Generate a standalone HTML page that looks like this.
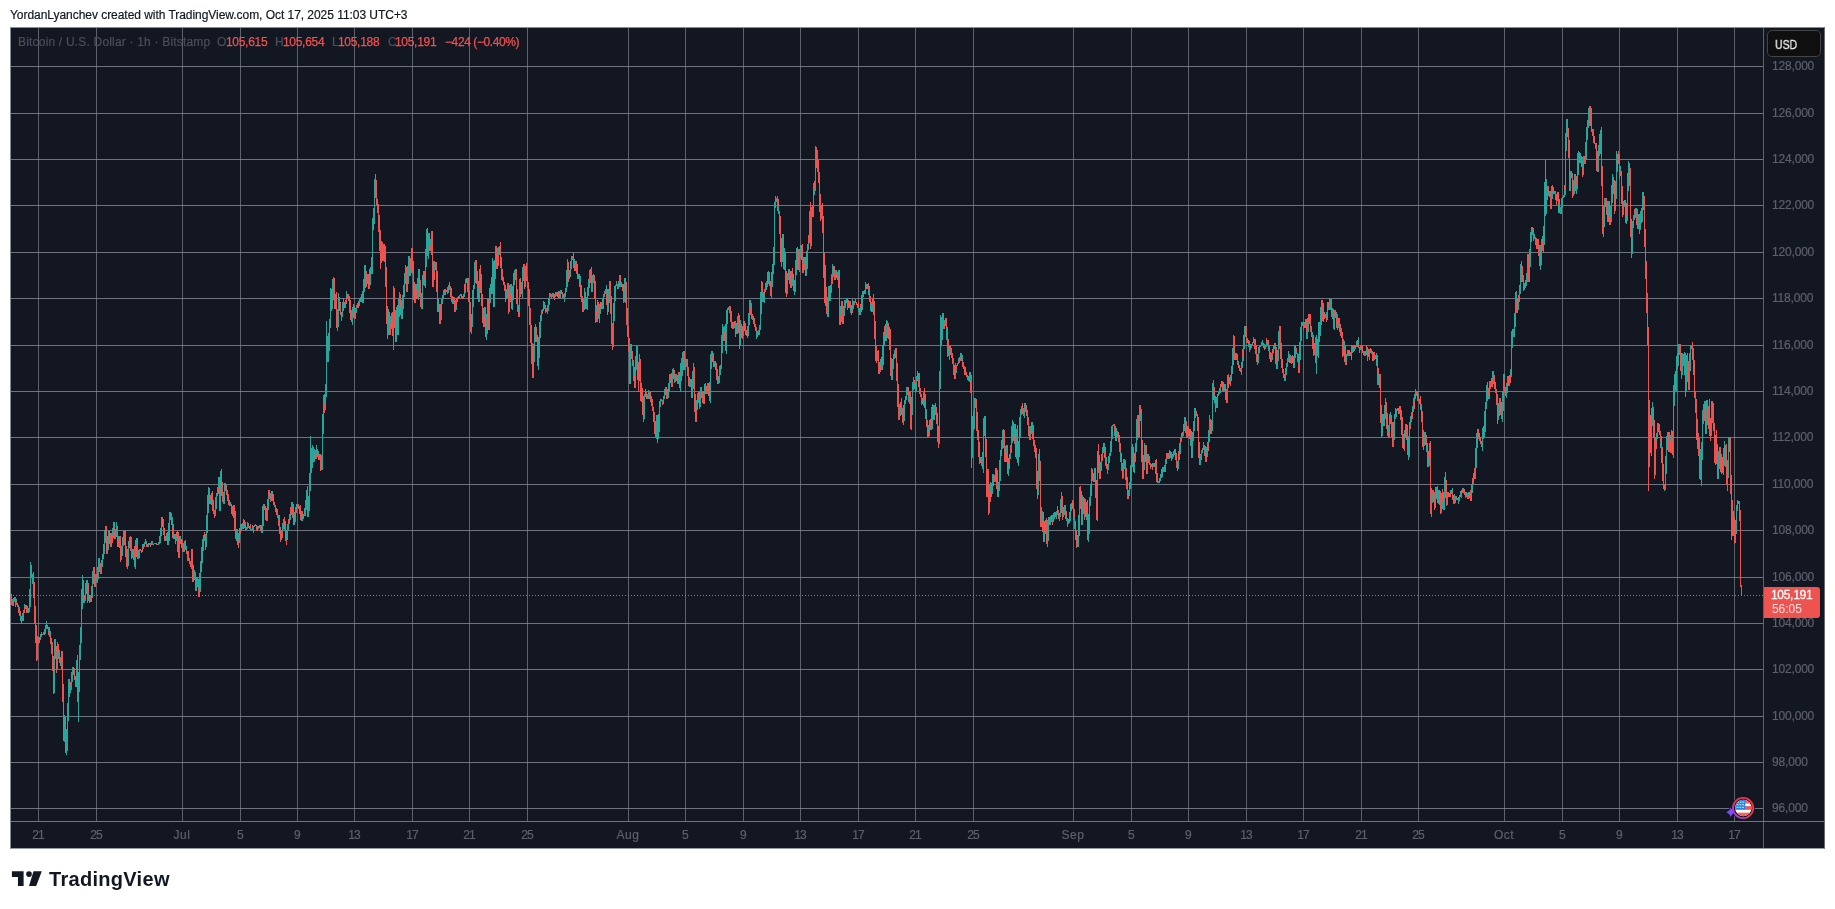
<!DOCTYPE html><html><head><meta charset="utf-8"><title>BTCUSD chart</title><style>
html,body{margin:0;padding:0;background:#fff}
body{width:1835px;height:909px;position:relative;overflow:hidden;font-family:"Liberation Sans",sans-serif;font-size:12px;line-height:14px}
.abs{position:absolute;white-space:pre;will-change:transform}
#cap{color:#131722;letter-spacing:-0.045px;-webkit-text-stroke:0.2px #131722}
#chart{left:10px;top:27px;width:1815px;height:822px;background:#131722;box-sizing:border-box;border:1px solid #8a8c95;border-right-color:#666872;border-bottom-color:#9a9ca4}
.pl{color:#5d606b;letter-spacing:-0.18px;-webkit-text-stroke:0.2px #5d606b}
.tl{width:60px;text-align:center;color:#5d606b;letter-spacing:-0.3px;-webkit-text-stroke:0.2px #5d606b}
.lg{color:#4b4e5a;-webkit-text-stroke:0.2px #4b4e5a}
.lv{color:#ef5350;letter-spacing:-0.3px;-webkit-text-stroke:0.25px #ef5350}
#usd{left:1767px;top:30px;width:54px;height:27px;box-sizing:border-box;border:1px solid #444446;border-radius:5px;background:#0f0f0f}
#usdt{color:#e6e6e6;-webkit-text-stroke:0.3px #e6e6e6;transform:scaleX(0.87);transform-origin:0 0}
#last{left:1764px;top:587px;width:56px;height:31px;background:#ef5350;border-radius:0 3px 3px 0}

</style></head><body>
<div id="cap" class="abs" style="left:10.1px;top:8.3px;">YordanLyanchev created with TradingView.com, Oct 17, 2025 11:03 UTC+3</div>
<div id="chart" class="abs"></div>
<svg width="1835" height="909" viewBox="0 0 1835 909" style="position:absolute;left:0;top:0" shape-rendering="crispEdges">
<path d="M38 28V821h1V28zM96 28V821h1V28zM182 28V821h1V28zM240 28V821h1V28zM297 28V821h1V28zM354 28V821h1V28zM412 28V821h1V28zM469 28V821h1V28zM527 28V821h1V28zM628 28V821h1V28zM685 28V821h1V28zM743 28V821h1V28zM800 28V821h1V28zM858 28V821h1V28zM915 28V821h1V28zM973 28V821h1V28zM1073 28V821h1V28zM1131 28V821h1V28zM1188 28V821h1V28zM1246 28V821h1V28zM1303 28V821h1V28zM1361 28V821h1V28zM1418 28V821h1V28zM1504 28V821h1V28zM1562 28V821h1V28zM1619 28V821h1V28zM1677 28V821h1V28zM1734 28V821h1V28zM1763 28V848h1V28z" fill="rgba(240,243,250,0.34)"/>
<path d="M11 66H1763v1H11zM11 113H1763v1H11zM11 159H1763v1H11zM11 205H1763v1H11zM11 252H1763v1H11zM11 298H1763v1H11zM11 345H1763v1H11zM11 391H1763v1H11zM11 437H1763v1H11zM11 484H1763v1H11zM11 530H1763v1H11zM11 577H1763v1H11zM11 623H1763v1H11zM11 669H1763v1H11zM11 716H1763v1H11zM11 762H1763v1H11zM11 808H1763v1H11zM11 821H1824v1H11z" fill="rgba(131,134,147,0.83)"/>
<path d="M13 595h1v1h-1zM16 595h1v1h-1zM19 595h1v1h-1zM22 595h1v1h-1zM25 595h1v1h-1zM28 595h1v1h-1zM31 595h1v1h-1zM34 595h1v1h-1zM37 595h1v1h-1zM40 595h1v1h-1zM43 595h1v1h-1zM46 595h1v1h-1zM49 595h1v1h-1zM52 595h1v1h-1zM55 595h1v1h-1zM58 595h1v1h-1zM61 595h1v1h-1zM64 595h1v1h-1zM67 595h1v1h-1zM70 595h1v1h-1zM73 595h1v1h-1zM76 595h1v1h-1zM79 595h1v1h-1zM82 595h1v1h-1zM85 595h1v1h-1zM88 595h1v1h-1zM91 595h1v1h-1zM94 595h1v1h-1zM97 595h1v1h-1zM100 595h1v1h-1zM103 595h1v1h-1zM106 595h1v1h-1zM109 595h1v1h-1zM112 595h1v1h-1zM115 595h1v1h-1zM118 595h1v1h-1zM121 595h1v1h-1zM124 595h1v1h-1zM127 595h1v1h-1zM130 595h1v1h-1zM133 595h1v1h-1zM136 595h1v1h-1zM139 595h1v1h-1zM142 595h1v1h-1zM145 595h1v1h-1zM148 595h1v1h-1zM151 595h1v1h-1zM154 595h1v1h-1zM157 595h1v1h-1zM160 595h1v1h-1zM163 595h1v1h-1zM166 595h1v1h-1zM169 595h1v1h-1zM172 595h1v1h-1zM175 595h1v1h-1zM178 595h1v1h-1zM181 595h1v1h-1zM184 595h1v1h-1zM187 595h1v1h-1zM190 595h1v1h-1zM193 595h1v1h-1zM196 595h1v1h-1zM199 595h1v1h-1zM202 595h1v1h-1zM205 595h1v1h-1zM208 595h1v1h-1zM211 595h1v1h-1zM214 595h1v1h-1zM217 595h1v1h-1zM220 595h1v1h-1zM223 595h1v1h-1zM226 595h1v1h-1zM229 595h1v1h-1zM232 595h1v1h-1zM235 595h1v1h-1zM238 595h1v1h-1zM241 595h1v1h-1zM244 595h1v1h-1zM247 595h1v1h-1zM250 595h1v1h-1zM253 595h1v1h-1zM256 595h1v1h-1zM259 595h1v1h-1zM262 595h1v1h-1zM265 595h1v1h-1zM268 595h1v1h-1zM271 595h1v1h-1zM274 595h1v1h-1zM277 595h1v1h-1zM280 595h1v1h-1zM283 595h1v1h-1zM286 595h1v1h-1zM289 595h1v1h-1zM292 595h1v1h-1zM295 595h1v1h-1zM298 595h1v1h-1zM301 595h1v1h-1zM304 595h1v1h-1zM307 595h1v1h-1zM310 595h1v1h-1zM313 595h1v1h-1zM316 595h1v1h-1zM319 595h1v1h-1zM322 595h1v1h-1zM325 595h1v1h-1zM328 595h1v1h-1zM331 595h1v1h-1zM334 595h1v1h-1zM337 595h1v1h-1zM340 595h1v1h-1zM343 595h1v1h-1zM346 595h1v1h-1zM349 595h1v1h-1zM352 595h1v1h-1zM355 595h1v1h-1zM358 595h1v1h-1zM361 595h1v1h-1zM364 595h1v1h-1zM367 595h1v1h-1zM370 595h1v1h-1zM373 595h1v1h-1zM376 595h1v1h-1zM379 595h1v1h-1zM382 595h1v1h-1zM385 595h1v1h-1zM388 595h1v1h-1zM391 595h1v1h-1zM394 595h1v1h-1zM397 595h1v1h-1zM400 595h1v1h-1zM403 595h1v1h-1zM406 595h1v1h-1zM409 595h1v1h-1zM412 595h1v1h-1zM415 595h1v1h-1zM418 595h1v1h-1zM421 595h1v1h-1zM424 595h1v1h-1zM427 595h1v1h-1zM430 595h1v1h-1zM433 595h1v1h-1zM436 595h1v1h-1zM439 595h1v1h-1zM442 595h1v1h-1zM445 595h1v1h-1zM448 595h1v1h-1zM451 595h1v1h-1zM454 595h1v1h-1zM457 595h1v1h-1zM460 595h1v1h-1zM463 595h1v1h-1zM466 595h1v1h-1zM469 595h1v1h-1zM472 595h1v1h-1zM475 595h1v1h-1zM478 595h1v1h-1zM481 595h1v1h-1zM484 595h1v1h-1zM487 595h1v1h-1zM490 595h1v1h-1zM493 595h1v1h-1zM496 595h1v1h-1zM499 595h1v1h-1zM502 595h1v1h-1zM505 595h1v1h-1zM508 595h1v1h-1zM511 595h1v1h-1zM514 595h1v1h-1zM517 595h1v1h-1zM520 595h1v1h-1zM523 595h1v1h-1zM526 595h1v1h-1zM529 595h1v1h-1zM532 595h1v1h-1zM535 595h1v1h-1zM538 595h1v1h-1zM541 595h1v1h-1zM544 595h1v1h-1zM547 595h1v1h-1zM550 595h1v1h-1zM553 595h1v1h-1zM556 595h1v1h-1zM559 595h1v1h-1zM562 595h1v1h-1zM565 595h1v1h-1zM568 595h1v1h-1zM571 595h1v1h-1zM574 595h1v1h-1zM577 595h1v1h-1zM580 595h1v1h-1zM583 595h1v1h-1zM586 595h1v1h-1zM589 595h1v1h-1zM592 595h1v1h-1zM595 595h1v1h-1zM598 595h1v1h-1zM601 595h1v1h-1zM604 595h1v1h-1zM607 595h1v1h-1zM610 595h1v1h-1zM613 595h1v1h-1zM616 595h1v1h-1zM619 595h1v1h-1zM622 595h1v1h-1zM625 595h1v1h-1zM628 595h1v1h-1zM631 595h1v1h-1zM634 595h1v1h-1zM637 595h1v1h-1zM640 595h1v1h-1zM643 595h1v1h-1zM646 595h1v1h-1zM649 595h1v1h-1zM652 595h1v1h-1zM655 595h1v1h-1zM658 595h1v1h-1zM661 595h1v1h-1zM664 595h1v1h-1zM667 595h1v1h-1zM670 595h1v1h-1zM673 595h1v1h-1zM676 595h1v1h-1zM679 595h1v1h-1zM682 595h1v1h-1zM685 595h1v1h-1zM688 595h1v1h-1zM691 595h1v1h-1zM694 595h1v1h-1zM697 595h1v1h-1zM700 595h1v1h-1zM703 595h1v1h-1zM706 595h1v1h-1zM709 595h1v1h-1zM712 595h1v1h-1zM715 595h1v1h-1zM718 595h1v1h-1zM721 595h1v1h-1zM724 595h1v1h-1zM727 595h1v1h-1zM730 595h1v1h-1zM733 595h1v1h-1zM736 595h1v1h-1zM739 595h1v1h-1zM742 595h1v1h-1zM745 595h1v1h-1zM748 595h1v1h-1zM751 595h1v1h-1zM754 595h1v1h-1zM757 595h1v1h-1zM760 595h1v1h-1zM763 595h1v1h-1zM766 595h1v1h-1zM769 595h1v1h-1zM772 595h1v1h-1zM775 595h1v1h-1zM778 595h1v1h-1zM781 595h1v1h-1zM784 595h1v1h-1zM787 595h1v1h-1zM790 595h1v1h-1zM793 595h1v1h-1zM796 595h1v1h-1zM799 595h1v1h-1zM802 595h1v1h-1zM805 595h1v1h-1zM808 595h1v1h-1zM811 595h1v1h-1zM814 595h1v1h-1zM817 595h1v1h-1zM820 595h1v1h-1zM823 595h1v1h-1zM826 595h1v1h-1zM829 595h1v1h-1zM832 595h1v1h-1zM835 595h1v1h-1zM838 595h1v1h-1zM841 595h1v1h-1zM844 595h1v1h-1zM847 595h1v1h-1zM850 595h1v1h-1zM853 595h1v1h-1zM856 595h1v1h-1zM859 595h1v1h-1zM862 595h1v1h-1zM865 595h1v1h-1zM868 595h1v1h-1zM871 595h1v1h-1zM874 595h1v1h-1zM877 595h1v1h-1zM880 595h1v1h-1zM883 595h1v1h-1zM886 595h1v1h-1zM889 595h1v1h-1zM892 595h1v1h-1zM895 595h1v1h-1zM898 595h1v1h-1zM901 595h1v1h-1zM904 595h1v1h-1zM907 595h1v1h-1zM910 595h1v1h-1zM913 595h1v1h-1zM916 595h1v1h-1zM919 595h1v1h-1zM922 595h1v1h-1zM925 595h1v1h-1zM928 595h1v1h-1zM931 595h1v1h-1zM934 595h1v1h-1zM937 595h1v1h-1zM940 595h1v1h-1zM943 595h1v1h-1zM946 595h1v1h-1zM949 595h1v1h-1zM952 595h1v1h-1zM955 595h1v1h-1zM958 595h1v1h-1zM961 595h1v1h-1zM964 595h1v1h-1zM967 595h1v1h-1zM970 595h1v1h-1zM973 595h1v1h-1zM976 595h1v1h-1zM979 595h1v1h-1zM982 595h1v1h-1zM985 595h1v1h-1zM988 595h1v1h-1zM991 595h1v1h-1zM994 595h1v1h-1zM997 595h1v1h-1zM1000 595h1v1h-1zM1003 595h1v1h-1zM1006 595h1v1h-1zM1009 595h1v1h-1zM1012 595h1v1h-1zM1015 595h1v1h-1zM1018 595h1v1h-1zM1021 595h1v1h-1zM1024 595h1v1h-1zM1027 595h1v1h-1zM1030 595h1v1h-1zM1033 595h1v1h-1zM1036 595h1v1h-1zM1039 595h1v1h-1zM1042 595h1v1h-1zM1045 595h1v1h-1zM1048 595h1v1h-1zM1051 595h1v1h-1zM1054 595h1v1h-1zM1057 595h1v1h-1zM1060 595h1v1h-1zM1063 595h1v1h-1zM1066 595h1v1h-1zM1069 595h1v1h-1zM1072 595h1v1h-1zM1075 595h1v1h-1zM1078 595h1v1h-1zM1081 595h1v1h-1zM1084 595h1v1h-1zM1087 595h1v1h-1zM1090 595h1v1h-1zM1093 595h1v1h-1zM1096 595h1v1h-1zM1099 595h1v1h-1zM1102 595h1v1h-1zM1105 595h1v1h-1zM1108 595h1v1h-1zM1111 595h1v1h-1zM1114 595h1v1h-1zM1117 595h1v1h-1zM1120 595h1v1h-1zM1123 595h1v1h-1zM1126 595h1v1h-1zM1129 595h1v1h-1zM1132 595h1v1h-1zM1135 595h1v1h-1zM1138 595h1v1h-1zM1141 595h1v1h-1zM1144 595h1v1h-1zM1147 595h1v1h-1zM1150 595h1v1h-1zM1153 595h1v1h-1zM1156 595h1v1h-1zM1159 595h1v1h-1zM1162 595h1v1h-1zM1165 595h1v1h-1zM1168 595h1v1h-1zM1171 595h1v1h-1zM1174 595h1v1h-1zM1177 595h1v1h-1zM1180 595h1v1h-1zM1183 595h1v1h-1zM1186 595h1v1h-1zM1189 595h1v1h-1zM1192 595h1v1h-1zM1195 595h1v1h-1zM1198 595h1v1h-1zM1201 595h1v1h-1zM1204 595h1v1h-1zM1207 595h1v1h-1zM1210 595h1v1h-1zM1213 595h1v1h-1zM1216 595h1v1h-1zM1219 595h1v1h-1zM1222 595h1v1h-1zM1225 595h1v1h-1zM1228 595h1v1h-1zM1231 595h1v1h-1zM1234 595h1v1h-1zM1237 595h1v1h-1zM1240 595h1v1h-1zM1243 595h1v1h-1zM1246 595h1v1h-1zM1249 595h1v1h-1zM1252 595h1v1h-1zM1255 595h1v1h-1zM1258 595h1v1h-1zM1261 595h1v1h-1zM1264 595h1v1h-1zM1267 595h1v1h-1zM1270 595h1v1h-1zM1273 595h1v1h-1zM1276 595h1v1h-1zM1279 595h1v1h-1zM1282 595h1v1h-1zM1285 595h1v1h-1zM1288 595h1v1h-1zM1291 595h1v1h-1zM1294 595h1v1h-1zM1297 595h1v1h-1zM1300 595h1v1h-1zM1303 595h1v1h-1zM1306 595h1v1h-1zM1309 595h1v1h-1zM1312 595h1v1h-1zM1315 595h1v1h-1zM1318 595h1v1h-1zM1321 595h1v1h-1zM1324 595h1v1h-1zM1327 595h1v1h-1zM1330 595h1v1h-1zM1333 595h1v1h-1zM1336 595h1v1h-1zM1339 595h1v1h-1zM1342 595h1v1h-1zM1345 595h1v1h-1zM1348 595h1v1h-1zM1351 595h1v1h-1zM1354 595h1v1h-1zM1357 595h1v1h-1zM1360 595h1v1h-1zM1363 595h1v1h-1zM1366 595h1v1h-1zM1369 595h1v1h-1zM1372 595h1v1h-1zM1375 595h1v1h-1zM1378 595h1v1h-1zM1381 595h1v1h-1zM1384 595h1v1h-1zM1387 595h1v1h-1zM1390 595h1v1h-1zM1393 595h1v1h-1zM1396 595h1v1h-1zM1399 595h1v1h-1zM1402 595h1v1h-1zM1405 595h1v1h-1zM1408 595h1v1h-1zM1411 595h1v1h-1zM1414 595h1v1h-1zM1417 595h1v1h-1zM1420 595h1v1h-1zM1423 595h1v1h-1zM1426 595h1v1h-1zM1429 595h1v1h-1zM1432 595h1v1h-1zM1435 595h1v1h-1zM1438 595h1v1h-1zM1441 595h1v1h-1zM1444 595h1v1h-1zM1447 595h1v1h-1zM1450 595h1v1h-1zM1453 595h1v1h-1zM1456 595h1v1h-1zM1459 595h1v1h-1zM1462 595h1v1h-1zM1465 595h1v1h-1zM1468 595h1v1h-1zM1471 595h1v1h-1zM1474 595h1v1h-1zM1477 595h1v1h-1zM1480 595h1v1h-1zM1483 595h1v1h-1zM1486 595h1v1h-1zM1489 595h1v1h-1zM1492 595h1v1h-1zM1495 595h1v1h-1zM1498 595h1v1h-1zM1501 595h1v1h-1zM1504 595h1v1h-1zM1507 595h1v1h-1zM1510 595h1v1h-1zM1513 595h1v1h-1zM1516 595h1v1h-1zM1519 595h1v1h-1zM1522 595h1v1h-1zM1525 595h1v1h-1zM1528 595h1v1h-1zM1531 595h1v1h-1zM1534 595h1v1h-1zM1537 595h1v1h-1zM1540 595h1v1h-1zM1543 595h1v1h-1zM1546 595h1v1h-1zM1549 595h1v1h-1zM1552 595h1v1h-1zM1555 595h1v1h-1zM1558 595h1v1h-1zM1561 595h1v1h-1zM1564 595h1v1h-1zM1567 595h1v1h-1zM1570 595h1v1h-1zM1573 595h1v1h-1zM1576 595h1v1h-1zM1579 595h1v1h-1zM1582 595h1v1h-1zM1585 595h1v1h-1zM1588 595h1v1h-1zM1591 595h1v1h-1zM1594 595h1v1h-1zM1597 595h1v1h-1zM1600 595h1v1h-1zM1603 595h1v1h-1zM1606 595h1v1h-1zM1609 595h1v1h-1zM1612 595h1v1h-1zM1615 595h1v1h-1zM1618 595h1v1h-1zM1621 595h1v1h-1zM1624 595h1v1h-1zM1627 595h1v1h-1zM1630 595h1v1h-1zM1633 595h1v1h-1zM1636 595h1v1h-1zM1639 595h1v1h-1zM1642 595h1v1h-1zM1645 595h1v1h-1zM1648 595h1v1h-1zM1651 595h1v1h-1zM1654 595h1v1h-1zM1657 595h1v1h-1zM1660 595h1v1h-1zM1663 595h1v1h-1zM1666 595h1v1h-1zM1669 595h1v1h-1zM1672 595h1v1h-1zM1675 595h1v1h-1zM1678 595h1v1h-1zM1681 595h1v1h-1zM1684 595h1v1h-1zM1687 595h1v1h-1zM1690 595h1v1h-1zM1693 595h1v1h-1zM1696 595h1v1h-1zM1699 595h1v1h-1zM1702 595h1v1h-1zM1705 595h1v1h-1zM1708 595h1v1h-1zM1711 595h1v1h-1zM1714 595h1v1h-1zM1717 595h1v1h-1zM1720 595h1v1h-1zM1723 595h1v1h-1zM1726 595h1v1h-1zM1729 595h1v1h-1zM1732 595h1v1h-1zM1735 595h1v1h-1zM1738 595h1v1h-1zM1741 595h1v1h-1zM1744 595h1v1h-1zM1747 595h1v1h-1zM1750 595h1v1h-1zM1753 595h1v1h-1zM1756 595h1v1h-1zM1759 595h1v1h-1zM1762 595h1v1h-1z" fill="#ef5350"/>
<path d="M10 597h1V602h-1zM11 594h1V605h-1z" fill="#ef5350"/>
<path d="M11 602h1V605h-1z" fill="#26a69a"/>
<path d="M12 599h1V606h-1z" fill="#ef5350"/>
<path d="M12 599h1V601h-1zM13 598h1V606h-1z" fill="#26a69a"/>
<path d="M13 603h1V606h-1z" fill="#ef5350"/>
<path d="M14 597h1V602h-1z" fill="#26a69a"/>
<path d="M15 597h1V607h-1z" fill="#ef5350"/>
<path d="M15 597h1V603h-1z" fill="#26a69a"/>
<path d="M16 599h1V605h-1z" fill="#ef5350"/>
<path d="M16 599h1V602h-1z" fill="#26a69a"/>
<path d="M17 603h1V607h-1zM18 605h1V613h-1z" fill="#ef5350"/>
<path d="M18 605h1V608h-1z" fill="#26a69a"/>
<path d="M19 607h1V616h-1z" fill="#ef5350"/>
<path d="M19 612h1V616h-1z" fill="#26a69a"/>
<path d="M20 611h1V621h-1z" fill="#ef5350"/>
<path d="M20 616h1V621h-1z" fill="#26a69a"/>
<path d="M21 616h1V624h-1z" fill="#ef5350"/>
<path d="M22 613h1V621h-1zM23 610h1V621h-1z" fill="#26a69a"/>
<path d="M23 616h1V621h-1z" fill="#ef5350"/>
<path d="M24 604h1V613h-1z" fill="#26a69a"/>
<path d="M24 608h1V613h-1z" fill="#ef5350"/>
<path d="M25 605h1V609h-1z" fill="#26a69a"/>
<path d="M26 605h1V613h-1zM27 606h1V613h-1z" fill="#ef5350"/>
<path d="M28 608h1V613h-1zM29 589h1V612h-1zM30 562h1V607h-1z" fill="#26a69a"/>
<path d="M31 565h1V578h-1z" fill="#ef5350"/>
<path d="M32 574h1V584h-1z" fill="#26a69a"/>
<path d="M33 572h1V598h-1zM34 582h1V624h-1zM35 606h1V643h-1zM36 625h1V661h-1z" fill="#ef5350"/>
<path d="M37 636h1V660h-1z" fill="#26a69a"/>
<path d="M38 637h1V644h-1z" fill="#ef5350"/>
<path d="M39 637h1V643h-1z" fill="#26a69a"/>
<path d="M39 637h1V640h-1z" fill="#ef5350"/>
<path d="M40 634h1V640h-1zM41 632h1V637h-1z" fill="#26a69a"/>
<path d="M41 632h1V634h-1zM42 634h1V635h-1zM43 632h1V635h-1z" fill="#ef5350"/>
<path d="M43 633h1V635h-1zM44 629h1V635h-1zM45 625h1V634h-1zM46 621h1V629h-1z" fill="#26a69a"/>
<path d="M47 625h1V629h-1zM48 627h1V635h-1z" fill="#ef5350"/>
<path d="M48 627h1V631h-1z" fill="#26a69a"/>
<path d="M49 627h1V637h-1z" fill="#ef5350"/>
<path d="M49 627h1V631h-1z" fill="#26a69a"/>
<path d="M50 631h1V644h-1z" fill="#ef5350"/>
<path d="M50 631h1V636h-1z" fill="#26a69a"/>
<path d="M51 638h1V654h-1zM52 642h1V671h-1zM53 656h1V694h-1z" fill="#ef5350"/>
<path d="M54 639h1V693h-1z" fill="#26a69a"/>
<path d="M55 639h1V659h-1z" fill="#ef5350"/>
<path d="M55 639h1V645h-1z" fill="#26a69a"/>
<path d="M56 646h1V673h-1z" fill="#ef5350"/>
<path d="M57 642h1V669h-1z" fill="#26a69a"/>
<path d="M58 644h1V659h-1z" fill="#ef5350"/>
<path d="M58 652h1V659h-1z" fill="#26a69a"/>
<path d="M59 650h1V663h-1zM60 657h1V666h-1z" fill="#ef5350"/>
<path d="M60 661h1V666h-1zM61 651h1V670h-1z" fill="#26a69a"/>
<path d="M61 663h1V670h-1zM62 651h1V702h-1zM63 684h1V741h-1z" fill="#ef5350"/>
<path d="M64 715h1V742h-1z" fill="#26a69a"/>
<path d="M65 717h1V753h-1z" fill="#ef5350"/>
<path d="M66 729h1V755h-1zM67 703h1V751h-1zM68 679h1V721h-1z" fill="#26a69a"/>
<path d="M69 679h1V697h-1z" fill="#ef5350"/>
<path d="M70 682h1V693h-1z" fill="#26a69a"/>
<path d="M70 682h1V686h-1z" fill="#ef5350"/>
<path d="M71 672h1V690h-1zM72 667h1V682h-1z" fill="#26a69a"/>
<path d="M73 667h1V675h-1zM74 668h1V680h-1zM75 676h1V687h-1z" fill="#ef5350"/>
<path d="M76 660h1V687h-1z" fill="#26a69a"/>
<path d="M77 655h1V702h-1z" fill="#ef5350"/>
<path d="M78 672h1V722h-1zM79 645h1V692h-1zM80 627h1V660h-1zM81 589h1V643h-1zM82 575h1V609h-1z" fill="#26a69a"/>
<path d="M83 580h1V603h-1z" fill="#ef5350"/>
<path d="M84 595h1V603h-1z" fill="#26a69a"/>
<path d="M84 595h1V599h-1z" fill="#ef5350"/>
<path d="M85 583h1V601h-1zM86 580h1V594h-1z" fill="#26a69a"/>
<path d="M87 580h1V603h-1zM88 583h1V601h-1z" fill="#ef5350"/>
<path d="M88 594h1V601h-1zM89 595h1V603h-1z" fill="#26a69a"/>
<path d="M89 595h1V599h-1zM90 595h1V602h-1z" fill="#ef5350"/>
<path d="M91 586h1V602h-1z" fill="#26a69a"/>
<path d="M91 593h1V602h-1z" fill="#ef5350"/>
<path d="M92 571h1V598h-1zM93 567h1V584h-1z" fill="#26a69a"/>
<path d="M93 579h1V584h-1zM94 567h1V587h-1z" fill="#ef5350"/>
<path d="M95 574h1V587h-1z" fill="#26a69a"/>
<path d="M95 581h1V587h-1z" fill="#ef5350"/>
<path d="M96 574h1V582h-1z" fill="#26a69a"/>
<path d="M96 574h1V578h-1z" fill="#ef5350"/>
<path d="M97 567h1V583h-1zM98 558h1V579h-1z" fill="#26a69a"/>
<path d="M99 558h1V572h-1z" fill="#ef5350"/>
<path d="M99 565h1V572h-1z" fill="#26a69a"/>
<path d="M100 563h1V574h-1z" fill="#ef5350"/>
<path d="M101 560h1V574h-1zM102 554h1V567h-1zM103 544h1V559h-1zM104 530h1V554h-1zM105 526h1V543h-1z" fill="#26a69a"/>
<path d="M106 526h1V554h-1z" fill="#ef5350"/>
<path d="M107 536h1V554h-1z" fill="#26a69a"/>
<path d="M107 536h1V543h-1z" fill="#ef5350"/>
<path d="M108 531h1V550h-1z" fill="#26a69a"/>
<path d="M109 531h1V544h-1z" fill="#ef5350"/>
<path d="M109 537h1V544h-1z" fill="#26a69a"/>
<path d="M110 533h1V547h-1z" fill="#ef5350"/>
<path d="M111 533h1V547h-1z" fill="#26a69a"/>
<path d="M111 541h1V547h-1z" fill="#ef5350"/>
<path d="M112 528h1V543h-1z" fill="#26a69a"/>
<path d="M112 536h1V543h-1z" fill="#ef5350"/>
<path d="M113 522h1V538h-1z" fill="#26a69a"/>
<path d="M113 522h1V530h-1zM114 522h1V539h-1z" fill="#ef5350"/>
<path d="M114 522h1V528h-1zM115 529h1V539h-1zM116 522h1V537h-1z" fill="#26a69a"/>
<path d="M117 526h1V547h-1z" fill="#ef5350"/>
<path d="M117 526h1V534h-1z" fill="#26a69a"/>
<path d="M118 536h1V547h-1z" fill="#ef5350"/>
<path d="M118 536h1V540h-1zM119 536h1V548h-1z" fill="#26a69a"/>
<path d="M120 536h1V562h-1z" fill="#ef5350"/>
<path d="M121 546h1V560h-1zM122 537h1V556h-1zM123 531h1V546h-1z" fill="#26a69a"/>
<path d="M124 531h1V545h-1zM125 530h1V557h-1zM126 546h1V567h-1z" fill="#ef5350"/>
<path d="M127 549h1V569h-1zM128 541h1V566h-1zM129 537h1V548h-1z" fill="#26a69a"/>
<path d="M129 537h1V540h-1zM130 536h1V551h-1zM131 537h1V559h-1z" fill="#ef5350"/>
<path d="M131 537h1V546h-1zM132 549h1V558h-1z" fill="#26a69a"/>
<path d="M133 549h1V560h-1z" fill="#ef5350"/>
<path d="M133 555h1V560h-1z" fill="#26a69a"/>
<path d="M134 546h1V567h-1z" fill="#ef5350"/>
<path d="M134 557h1V567h-1zM135 540h1V569h-1zM136 538h1V557h-1z" fill="#26a69a"/>
<path d="M136 546h1V557h-1zM137 538h1V559h-1z" fill="#ef5350"/>
<path d="M137 538h1V546h-1zM138 550h1V559h-1zM139 549h1V558h-1z" fill="#26a69a"/>
<path d="M139 553h1V558h-1zM140 549h1V551h-1zM141 550h1V553h-1z" fill="#ef5350"/>
<path d="M142 544h1V552h-1z" fill="#26a69a"/>
<path d="M142 547h1V552h-1z" fill="#ef5350"/>
<path d="M143 544h1V549h-1z" fill="#26a69a"/>
<path d="M143 544h1V547h-1z" fill="#ef5350"/>
<path d="M144 542h1V547h-1z" fill="#26a69a"/>
<path d="M144 545h1V547h-1z" fill="#ef5350"/>
<path d="M145 539h1V544h-1z" fill="#26a69a"/>
<path d="M145 539h1V541h-1zM146 541h1V547h-1z" fill="#ef5350"/>
<path d="M146 541h1V544h-1z" fill="#26a69a"/>
<path d="M147 544h1V547h-1z" fill="#ef5350"/>
<path d="M148 543h1V547h-1zM149 543h1V545h-1z" fill="#26a69a"/>
<path d="M150 543h1V547h-1zM151 541h1V545h-1z" fill="#ef5350"/>
<path d="M152 541h1V545h-1zM153 544h1V545h-1zM154 543h1V544h-1zM155 543h1V544h-1z" fill="#26a69a"/>
<path d="M156 543h1V545h-1zM157 544h1V545h-1z" fill="#ef5350"/>
<path d="M158 542h1V545h-1zM159 536h1V544h-1z" fill="#26a69a"/>
<path d="M159 536h1V539h-1z" fill="#ef5350"/>
<path d="M160 528h1V543h-1zM161 517h1V536h-1z" fill="#26a69a"/>
<path d="M162 517h1V527h-1zM163 519h1V535h-1z" fill="#ef5350"/>
<path d="M163 526h1V535h-1z" fill="#26a69a"/>
<path d="M164 528h1V541h-1zM165 536h1V541h-1z" fill="#ef5350"/>
<path d="M165 536h1V539h-1zM166 533h1V541h-1z" fill="#26a69a"/>
<path d="M167 532h1V545h-1z" fill="#ef5350"/>
<path d="M168 523h1V545h-1zM169 512h1V541h-1zM170 512h1V520h-1z" fill="#26a69a"/>
<path d="M171 513h1V525h-1z" fill="#ef5350"/>
<path d="M171 513h1V517h-1z" fill="#26a69a"/>
<path d="M172 517h1V538h-1z" fill="#ef5350"/>
<path d="M172 517h1V527h-1z" fill="#26a69a"/>
<path d="M173 524h1V539h-1z" fill="#ef5350"/>
<path d="M174 534h1V539h-1z" fill="#26a69a"/>
<path d="M175 534h1V544h-1z" fill="#ef5350"/>
<path d="M176 532h1V541h-1z" fill="#26a69a"/>
<path d="M176 532h1V538h-1zM177 531h1V552h-1zM178 532h1V558h-1z" fill="#ef5350"/>
<path d="M179 536h1V558h-1z" fill="#26a69a"/>
<path d="M179 536h1V545h-1zM180 536h1V544h-1z" fill="#ef5350"/>
<path d="M180 536h1V540h-1z" fill="#26a69a"/>
<path d="M181 539h1V548h-1zM182 540h1V552h-1z" fill="#ef5350"/>
<path d="M183 543h1V552h-1zM184 541h1V552h-1z" fill="#26a69a"/>
<path d="M185 540h1V550h-1zM186 546h1V554h-1z" fill="#ef5350"/>
<path d="M186 546h1V549h-1z" fill="#26a69a"/>
<path d="M187 551h1V561h-1z" fill="#ef5350"/>
<path d="M187 556h1V561h-1z" fill="#26a69a"/>
<path d="M188 551h1V561h-1zM189 558h1V564h-1z" fill="#ef5350"/>
<path d="M189 558h1V560h-1z" fill="#26a69a"/>
<path d="M190 561h1V567h-1z" fill="#ef5350"/>
<path d="M191 549h1V569h-1z" fill="#26a69a"/>
<path d="M191 549h1V555h-1zM192 549h1V582h-1zM193 565h1V582h-1z" fill="#ef5350"/>
<path d="M193 576h1V582h-1zM194 570h1V580h-1z" fill="#26a69a"/>
<path d="M195 572h1V591h-1z" fill="#ef5350"/>
<path d="M196 577h1V591h-1z" fill="#26a69a"/>
<path d="M197 577h1V587h-1zM198 579h1V597h-1z" fill="#ef5350"/>
<path d="M198 579h1V588h-1zM199 573h1V597h-1zM200 561h1V592h-1zM201 547h1V572h-1zM202 539h1V563h-1zM203 535h1V551h-1z" fill="#26a69a"/>
<path d="M203 535h1V543h-1z" fill="#ef5350"/>
<path d="M204 532h1V541h-1z" fill="#26a69a"/>
<path d="M204 532h1V537h-1zM205 534h1V550h-1z" fill="#ef5350"/>
<path d="M206 515h1V547h-1zM207 495h1V533h-1zM208 487h1V513h-1z" fill="#26a69a"/>
<path d="M209 488h1V504h-1zM210 495h1V504h-1z" fill="#ef5350"/>
<path d="M210 500h1V504h-1zM211 493h1V505h-1z" fill="#26a69a"/>
<path d="M211 500h1V505h-1zM212 491h1V511h-1zM213 500h1V514h-1z" fill="#ef5350"/>
<path d="M213 500h1V506h-1z" fill="#26a69a"/>
<path d="M214 510h1V518h-1z" fill="#ef5350"/>
<path d="M215 497h1V516h-1zM216 493h1V509h-1zM217 487h1V496h-1zM218 477h1V494h-1z" fill="#26a69a"/>
<path d="M218 487h1V494h-1zM219 477h1V511h-1z" fill="#ef5350"/>
<path d="M220 471h1V511h-1z" fill="#26a69a"/>
<path d="M221 469h1V496h-1zM222 482h1V502h-1z" fill="#ef5350"/>
<path d="M223 492h1V504h-1zM224 483h1V504h-1z" fill="#26a69a"/>
<path d="M225 483h1V491h-1z" fill="#ef5350"/>
<path d="M225 483h1V487h-1z" fill="#26a69a"/>
<path d="M226 485h1V495h-1zM227 490h1V501h-1z" fill="#ef5350"/>
<path d="M227 496h1V501h-1z" fill="#26a69a"/>
<path d="M228 494h1V505h-1zM229 500h1V506h-1z" fill="#ef5350"/>
<path d="M229 504h1V506h-1zM230 502h1V506h-1z" fill="#26a69a"/>
<path d="M231 504h1V514h-1zM232 506h1V516h-1z" fill="#ef5350"/>
<path d="M233 505h1V518h-1z" fill="#26a69a"/>
<path d="M234 505h1V531h-1zM235 511h1V539h-1z" fill="#ef5350"/>
<path d="M236 529h1V541h-1z" fill="#26a69a"/>
<path d="M237 529h1V545h-1z" fill="#ef5350"/>
<path d="M237 529h1V534h-1zM238 533h1V548h-1z" fill="#26a69a"/>
<path d="M238 540h1V548h-1z" fill="#ef5350"/>
<path d="M239 528h1V543h-1z" fill="#26a69a"/>
<path d="M239 528h1V537h-1z" fill="#ef5350"/>
<path d="M240 524h1V534h-1z" fill="#26a69a"/>
<path d="M240 530h1V534h-1zM241 524h1V531h-1zM242 523h1V529h-1z" fill="#ef5350"/>
<path d="M242 526h1V529h-1zM243 519h1V529h-1z" fill="#26a69a"/>
<path d="M243 519h1V525h-1zM244 520h1V528h-1z" fill="#ef5350"/>
<path d="M244 523h1V528h-1z" fill="#26a69a"/>
<path d="M245 522h1V530h-1z" fill="#ef5350"/>
<path d="M246 527h1V530h-1zM247 522h1V529h-1z" fill="#26a69a"/>
<path d="M248 523h1V528h-1z" fill="#ef5350"/>
<path d="M248 523h1V525h-1z" fill="#26a69a"/>
<path d="M249 526h1V529h-1z" fill="#ef5350"/>
<path d="M249 528h1V529h-1z" fill="#26a69a"/>
<path d="M250 524h1V530h-1z" fill="#ef5350"/>
<path d="M250 528h1V530h-1z" fill="#26a69a"/>
<path d="M251 529h1V530h-1z" fill="#ef5350"/>
<path d="M252 525h1V530h-1z" fill="#26a69a"/>
<path d="M252 525h1V528h-1z" fill="#ef5350"/>
<path d="M253 526h1V533h-1z" fill="#26a69a"/>
<path d="M253 530h1V533h-1z" fill="#ef5350"/>
<path d="M254 525h1V527h-1zM255 524h1V526h-1z" fill="#26a69a"/>
<path d="M256 525h1V531h-1zM257 526h1V531h-1z" fill="#ef5350"/>
<path d="M258 526h1V529h-1zM259 525h1V528h-1z" fill="#26a69a"/>
<path d="M260 525h1V531h-1zM261 525h1V533h-1z" fill="#ef5350"/>
<path d="M262 506h1V533h-1zM263 504h1V526h-1z" fill="#26a69a"/>
<path d="M264 504h1V510h-1z" fill="#ef5350"/>
<path d="M264 504h1V506h-1z" fill="#26a69a"/>
<path d="M265 506h1V520h-1zM266 508h1V521h-1z" fill="#ef5350"/>
<path d="M267 499h1V521h-1zM268 490h1V510h-1z" fill="#26a69a"/>
<path d="M268 490h1V498h-1zM269 490h1V499h-1z" fill="#ef5350"/>
<path d="M269 496h1V499h-1z" fill="#26a69a"/>
<path d="M270 493h1V502h-1z" fill="#ef5350"/>
<path d="M270 493h1V497h-1zM271 491h1V501h-1z" fill="#26a69a"/>
<path d="M272 491h1V501h-1z" fill="#ef5350"/>
<path d="M272 491h1V494h-1z" fill="#26a69a"/>
<path d="M273 494h1V505h-1zM274 502h1V507h-1z" fill="#ef5350"/>
<path d="M274 505h1V507h-1z" fill="#26a69a"/>
<path d="M275 505h1V512h-1zM276 508h1V515h-1zM277 509h1V518h-1z" fill="#ef5350"/>
<path d="M277 509h1V513h-1z" fill="#26a69a"/>
<path d="M278 515h1V526h-1z" fill="#ef5350"/>
<path d="M278 515h1V519h-1z" fill="#26a69a"/>
<path d="M279 515h1V534h-1zM280 527h1V542h-1z" fill="#ef5350"/>
<path d="M281 530h1V540h-1z" fill="#26a69a"/>
<path d="M281 534h1V540h-1z" fill="#ef5350"/>
<path d="M282 523h1V538h-1z" fill="#26a69a"/>
<path d="M282 531h1V538h-1z" fill="#ef5350"/>
<path d="M283 519h1V529h-1z" fill="#26a69a"/>
<path d="M284 517h1V531h-1z" fill="#ef5350"/>
<path d="M284 526h1V531h-1z" fill="#26a69a"/>
<path d="M285 521h1V541h-1z" fill="#ef5350"/>
<path d="M286 531h1V545h-1z" fill="#26a69a"/>
<path d="M286 540h1V545h-1z" fill="#ef5350"/>
<path d="M287 524h1V540h-1z" fill="#26a69a"/>
<path d="M287 532h1V540h-1z" fill="#ef5350"/>
<path d="M288 519h1V530h-1z" fill="#26a69a"/>
<path d="M288 519h1V523h-1z" fill="#ef5350"/>
<path d="M289 514h1V524h-1zM290 507h1V520h-1z" fill="#26a69a"/>
<path d="M290 507h1V514h-1z" fill="#ef5350"/>
<path d="M291 502h1V515h-1z" fill="#26a69a"/>
<path d="M292 502h1V518h-1z" fill="#ef5350"/>
<path d="M292 502h1V507h-1z" fill="#26a69a"/>
<path d="M293 504h1V525h-1z" fill="#ef5350"/>
<path d="M294 512h1V525h-1zM295 507h1V522h-1z" fill="#26a69a"/>
<path d="M295 507h1V516h-1z" fill="#ef5350"/>
<path d="M296 504h1V513h-1z" fill="#26a69a"/>
<path d="M296 509h1V513h-1zM297 504h1V508h-1z" fill="#ef5350"/>
<path d="M297 507h1V508h-1z" fill="#26a69a"/>
<path d="M298 504h1V509h-1z" fill="#ef5350"/>
<path d="M299 506h1V514h-1z" fill="#26a69a"/>
<path d="M299 506h1V510h-1zM300 505h1V520h-1zM301 511h1V521h-1z" fill="#ef5350"/>
<path d="M302 511h1V521h-1z" fill="#26a69a"/>
<path d="M302 511h1V515h-1zM303 514h1V519h-1z" fill="#ef5350"/>
<path d="M304 508h1V516h-1zM305 500h1V516h-1z" fill="#26a69a"/>
<path d="M305 511h1V516h-1z" fill="#ef5350"/>
<path d="M306 490h1V510h-1z" fill="#26a69a"/>
<path d="M307 486h1V517h-1z" fill="#ef5350"/>
<path d="M308 496h1V517h-1zM309 473h1V511h-1zM310 436h1V491h-1z" fill="#26a69a"/>
<path d="M311 448h1V473h-1z" fill="#ef5350"/>
<path d="M312 445h1V468h-1z" fill="#26a69a"/>
<path d="M313 447h1V462h-1z" fill="#ef5350"/>
<path d="M313 447h1V452h-1zM314 449h1V462h-1z" fill="#26a69a"/>
<path d="M315 450h1V459h-1z" fill="#ef5350"/>
<path d="M316 445h1V459h-1z" fill="#26a69a"/>
<path d="M316 453h1V459h-1zM317 449h1V457h-1z" fill="#ef5350"/>
<path d="M317 454h1V457h-1z" fill="#26a69a"/>
<path d="M318 451h1V460h-1z" fill="#ef5350"/>
<path d="M318 451h1V455h-1z" fill="#26a69a"/>
<path d="M319 454h1V460h-1zM320 454h1V471h-1zM321 455h1V470h-1z" fill="#ef5350"/>
<path d="M321 455h1V462h-1zM322 414h1V470h-1zM323 395h1V434h-1zM324 394h1V413h-1z" fill="#26a69a"/>
<path d="M324 403h1V413h-1z" fill="#ef5350"/>
<path d="M325 384h1V410h-1zM326 321h1V397h-1z" fill="#26a69a"/>
<path d="M327 336h1V362h-1z" fill="#ef5350"/>
<path d="M328 333h1V362h-1zM329 319h1V351h-1zM330 288h1V328h-1z" fill="#26a69a"/>
<path d="M331 289h1V311h-1z" fill="#ef5350"/>
<path d="M332 279h1V309h-1zM333 277h1V300h-1z" fill="#26a69a"/>
<path d="M334 278h1V309h-1z" fill="#ef5350"/>
<path d="M335 294h1V309h-1z" fill="#26a69a"/>
<path d="M335 302h1V309h-1zM336 292h1V328h-1z" fill="#ef5350"/>
<path d="M337 309h1V331h-1zM338 293h1V327h-1z" fill="#26a69a"/>
<path d="M339 297h1V311h-1z" fill="#ef5350"/>
<path d="M339 297h1V305h-1z" fill="#26a69a"/>
<path d="M340 302h1V315h-1zM341 312h1V321h-1z" fill="#ef5350"/>
<path d="M342 302h1V317h-1zM343 298h1V311h-1z" fill="#26a69a"/>
<path d="M344 302h1V308h-1z" fill="#ef5350"/>
<path d="M344 304h1V308h-1zM345 300h1V308h-1z" fill="#26a69a"/>
<path d="M345 305h1V308h-1z" fill="#ef5350"/>
<path d="M346 291h1V304h-1z" fill="#26a69a"/>
<path d="M346 298h1V304h-1z" fill="#ef5350"/>
<path d="M347 294h1V299h-1z" fill="#26a69a"/>
<path d="M348 294h1V301h-1z" fill="#ef5350"/>
<path d="M348 299h1V301h-1z" fill="#26a69a"/>
<path d="M349 296h1V313h-1zM350 300h1V320h-1zM351 310h1V322h-1z" fill="#ef5350"/>
<path d="M351 310h1V314h-1zM352 307h1V325h-1z" fill="#26a69a"/>
<path d="M353 304h1V318h-1zM354 306h1V319h-1z" fill="#ef5350"/>
<path d="M354 306h1V311h-1zM355 308h1V319h-1zM356 305h1V313h-1z" fill="#26a69a"/>
<path d="M356 305h1V308h-1z" fill="#ef5350"/>
<path d="M357 303h1V308h-1zM358 301h1V308h-1z" fill="#26a69a"/>
<path d="M358 304h1V308h-1z" fill="#ef5350"/>
<path d="M359 299h1V306h-1z" fill="#26a69a"/>
<path d="M359 299h1V302h-1z" fill="#ef5350"/>
<path d="M360 297h1V302h-1z" fill="#26a69a"/>
<path d="M361 294h1V302h-1z" fill="#ef5350"/>
<path d="M362 291h1V303h-1zM363 279h1V303h-1zM364 265h1V292h-1z" fill="#26a69a"/>
<path d="M365 265h1V288h-1zM366 271h1V287h-1z" fill="#ef5350"/>
<path d="M367 274h1V284h-1z" fill="#26a69a"/>
<path d="M367 279h1V284h-1zM368 274h1V289h-1z" fill="#ef5350"/>
<path d="M369 269h1V289h-1z" fill="#26a69a"/>
<path d="M369 269h1V276h-1z" fill="#ef5350"/>
<path d="M370 267h1V285h-1zM371 257h1V274h-1zM372 218h1V274h-1zM373 208h1V230h-1z" fill="#26a69a"/>
<path d="M373 218h1V230h-1z" fill="#ef5350"/>
<path d="M374 179h1V224h-1z" fill="#26a69a"/>
<path d="M375 174h1V198h-1zM376 180h1V205h-1zM377 199h1V213h-1zM378 204h1V232h-1zM379 215h1V251h-1zM380 230h1V269h-1z" fill="#ef5350"/>
<path d="M381 241h1V263h-1z" fill="#26a69a"/>
<path d="M382 242h1V261h-1z" fill="#ef5350"/>
<path d="M383 244h1V261h-1z" fill="#26a69a"/>
<path d="M383 252h1V261h-1zM384 244h1V262h-1zM385 246h1V287h-1zM386 267h1V324h-1zM387 306h1V339h-1z" fill="#ef5350"/>
<path d="M388 309h1V335h-1z" fill="#26a69a"/>
<path d="M389 312h1V335h-1z" fill="#ef5350"/>
<path d="M390 316h1V335h-1z" fill="#26a69a"/>
<path d="M390 324h1V335h-1z" fill="#ef5350"/>
<path d="M391 313h1V329h-1z" fill="#26a69a"/>
<path d="M391 320h1V329h-1zM392 312h1V336h-1z" fill="#ef5350"/>
<path d="M393 286h1V350h-1z" fill="#26a69a"/>
<path d="M394 288h1V328h-1zM395 310h1V342h-1z" fill="#ef5350"/>
<path d="M396 307h1V342h-1z" fill="#26a69a"/>
<path d="M397 305h1V335h-1z" fill="#ef5350"/>
<path d="M398 298h1V335h-1zM399 292h1V317h-1z" fill="#26a69a"/>
<path d="M400 294h1V315h-1z" fill="#ef5350"/>
<path d="M400 307h1V315h-1z" fill="#26a69a"/>
<path d="M401 300h1V319h-1z" fill="#ef5350"/>
<path d="M402 295h1V319h-1zM403 285h1V309h-1zM404 273h1V297h-1zM405 265h1V284h-1z" fill="#26a69a"/>
<path d="M405 265h1V275h-1zM406 267h1V292h-1z" fill="#ef5350"/>
<path d="M407 266h1V292h-1zM408 256h1V284h-1z" fill="#26a69a"/>
<path d="M409 256h1V276h-1z" fill="#ef5350"/>
<path d="M409 256h1V265h-1zM410 258h1V276h-1z" fill="#26a69a"/>
<path d="M410 258h1V269h-1z" fill="#ef5350"/>
<path d="M411 248h1V273h-1z" fill="#26a69a"/>
<path d="M412 248h1V274h-1zM413 261h1V300h-1zM414 282h1V303h-1z" fill="#ef5350"/>
<path d="M415 284h1V303h-1z" fill="#26a69a"/>
<path d="M415 284h1V295h-1zM416 284h1V299h-1z" fill="#ef5350"/>
<path d="M416 284h1V289h-1zM417 278h1V299h-1zM418 269h1V300h-1z" fill="#26a69a"/>
<path d="M419 269h1V297h-1zM420 280h1V307h-1z" fill="#ef5350"/>
<path d="M421 293h1V309h-1z" fill="#26a69a"/>
<path d="M421 293h1V299h-1z" fill="#ef5350"/>
<path d="M422 275h1V309h-1zM423 271h1V285h-1z" fill="#26a69a"/>
<path d="M423 279h1V285h-1zM424 271h1V286h-1z" fill="#ef5350"/>
<path d="M424 279h1V286h-1zM425 249h1V288h-1zM426 229h1V267h-1z" fill="#26a69a"/>
<path d="M427 228h1V256h-1z" fill="#ef5350"/>
<path d="M428 233h1V259h-1z" fill="#26a69a"/>
<path d="M429 233h1V251h-1zM430 239h1V251h-1z" fill="#ef5350"/>
<path d="M430 239h1V246h-1zM431 231h1V255h-1z" fill="#26a69a"/>
<path d="M432 231h1V287h-1z" fill="#ef5350"/>
<path d="M433 261h1V287h-1zM434 261h1V280h-1z" fill="#26a69a"/>
<path d="M434 272h1V280h-1z" fill="#ef5350"/>
<path d="M435 262h1V270h-1z" fill="#26a69a"/>
<path d="M436 262h1V292h-1zM437 271h1V312h-1z" fill="#ef5350"/>
<path d="M438 299h1V312h-1z" fill="#26a69a"/>
<path d="M439 304h1V324h-1zM440 304h1V324h-1z" fill="#ef5350"/>
<path d="M441 299h1V320h-1zM442 295h1V304h-1zM443 290h1V299h-1zM444 289h1V295h-1z" fill="#26a69a"/>
<path d="M444 289h1V292h-1zM445 289h1V295h-1zM446 290h1V292h-1z" fill="#ef5350"/>
<path d="M447 287h1V294h-1zM448 285h1V293h-1z" fill="#26a69a"/>
<path d="M449 282h1V290h-1zM450 286h1V297h-1zM451 288h1V302h-1z" fill="#ef5350"/>
<path d="M451 294h1V302h-1z" fill="#26a69a"/>
<path d="M452 296h1V304h-1z" fill="#ef5350"/>
<path d="M452 300h1V304h-1zM453 297h1V304h-1z" fill="#26a69a"/>
<path d="M454 297h1V312h-1zM455 300h1V312h-1z" fill="#ef5350"/>
<path d="M455 300h1V307h-1zM456 298h1V310h-1z" fill="#26a69a"/>
<path d="M456 298h1V305h-1z" fill="#ef5350"/>
<path d="M457 297h1V302h-1z" fill="#26a69a"/>
<path d="M457 297h1V299h-1z" fill="#ef5350"/>
<path d="M458 296h1V299h-1z" fill="#26a69a"/>
<path d="M458 298h1V299h-1z" fill="#ef5350"/>
<path d="M459 295h1V299h-1z" fill="#26a69a"/>
<path d="M459 297h1V299h-1z" fill="#ef5350"/>
<path d="M460 294h1V296h-1z" fill="#26a69a"/>
<path d="M461 294h1V298h-1z" fill="#ef5350"/>
<path d="M461 294h1V295h-1z" fill="#26a69a"/>
<path d="M462 296h1V299h-1z" fill="#ef5350"/>
<path d="M463 294h1V299h-1zM464 284h1V297h-1z" fill="#26a69a"/>
<path d="M464 284h1V292h-1z" fill="#ef5350"/>
<path d="M465 279h1V293h-1zM466 278h1V283h-1z" fill="#26a69a"/>
<path d="M467 278h1V292h-1z" fill="#ef5350"/>
<path d="M467 278h1V286h-1z" fill="#26a69a"/>
<path d="M468 278h1V302h-1zM469 291h1V320h-1zM470 302h1V332h-1z" fill="#ef5350"/>
<path d="M471 314h1V334h-1z" fill="#26a69a"/>
<path d="M471 314h1V323h-1z" fill="#ef5350"/>
<path d="M472 290h1V327h-1zM473 285h1V307h-1zM474 262h1V289h-1zM475 260h1V283h-1z" fill="#26a69a"/>
<path d="M476 260h1V284h-1zM477 271h1V299h-1z" fill="#ef5350"/>
<path d="M478 281h1V302h-1z" fill="#26a69a"/>
<path d="M478 281h1V288h-1z" fill="#ef5350"/>
<path d="M479 269h1V302h-1z" fill="#26a69a"/>
<path d="M480 265h1V293h-1zM481 274h1V306h-1zM482 294h1V323h-1zM483 308h1V327h-1z" fill="#ef5350"/>
<path d="M484 307h1V327h-1z" fill="#26a69a"/>
<path d="M484 317h1V327h-1zM485 307h1V337h-1z" fill="#ef5350"/>
<path d="M486 314h1V340h-1zM487 299h1V334h-1z" fill="#26a69a"/>
<path d="M488 299h1V330h-1z" fill="#ef5350"/>
<path d="M489 288h1V330h-1zM490 284h1V303h-1z" fill="#26a69a"/>
<path d="M491 277h1V294h-1z" fill="#ef5350"/>
<path d="M492 258h1V294h-1z" fill="#26a69a"/>
<path d="M493 261h1V307h-1z" fill="#ef5350"/>
<path d="M494 260h1V307h-1zM495 246h1V279h-1z" fill="#26a69a"/>
<path d="M496 246h1V269h-1z" fill="#ef5350"/>
<path d="M497 248h1V269h-1zM498 247h1V266h-1z" fill="#26a69a"/>
<path d="M498 255h1V266h-1zM499 246h1V255h-1zM500 242h1V268h-1zM501 257h1V280h-1zM502 269h1V281h-1zM503 277h1V285h-1z" fill="#ef5350"/>
<path d="M503 277h1V280h-1z" fill="#26a69a"/>
<path d="M504 282h1V291h-1zM505 285h1V302h-1z" fill="#ef5350"/>
<path d="M505 285h1V293h-1zM506 289h1V299h-1zM507 283h1V298h-1z" fill="#26a69a"/>
<path d="M508 283h1V314h-1z" fill="#ef5350"/>
<path d="M509 285h1V312h-1zM510 284h1V302h-1z" fill="#26a69a"/>
<path d="M510 293h1V302h-1zM511 284h1V309h-1z" fill="#ef5350"/>
<path d="M512 286h1V310h-1zM513 273h1V300h-1zM514 270h1V285h-1zM515 269h1V280h-1z" fill="#26a69a"/>
<path d="M516 269h1V304h-1zM517 289h1V312h-1zM518 305h1V317h-1z" fill="#ef5350"/>
<path d="M518 305h1V311h-1zM519 279h1V317h-1z" fill="#26a69a"/>
<path d="M520 278h1V297h-1zM521 282h1V294h-1z" fill="#ef5350"/>
<path d="M522 267h1V298h-1zM523 264h1V281h-1z" fill="#26a69a"/>
<path d="M523 264h1V270h-1zM524 264h1V289h-1z" fill="#ef5350"/>
<path d="M525 266h1V287h-1z" fill="#26a69a"/>
<path d="M525 266h1V276h-1zM526 263h1V281h-1zM527 277h1V288h-1z" fill="#ef5350"/>
<path d="M527 277h1V280h-1z" fill="#26a69a"/>
<path d="M528 282h1V306h-1zM529 289h1V325h-1zM530 308h1V343h-1zM531 325h1V364h-1zM532 343h1V378h-1z" fill="#ef5350"/>
<path d="M533 344h1V378h-1zM534 327h1V362h-1z" fill="#26a69a"/>
<path d="M535 324h1V342h-1z" fill="#ef5350"/>
<path d="M535 324h1V333h-1z" fill="#26a69a"/>
<path d="M536 327h1V342h-1zM537 335h1V366h-1z" fill="#ef5350"/>
<path d="M538 337h1V370h-1zM539 322h1V358h-1zM540 315h1V338h-1zM541 310h1V321h-1zM542 309h1V314h-1z" fill="#26a69a"/>
<path d="M542 312h1V314h-1z" fill="#ef5350"/>
<path d="M543 301h1V311h-1zM544 302h1V309h-1z" fill="#26a69a"/>
<path d="M545 305h1V313h-1z" fill="#ef5350"/>
<path d="M545 305h1V309h-1z" fill="#26a69a"/>
<path d="M546 308h1V312h-1z" fill="#ef5350"/>
<path d="M547 305h1V314h-1zM548 298h1V311h-1zM549 293h1V305h-1z" fill="#26a69a"/>
<path d="M549 301h1V305h-1zM550 293h1V297h-1zM551 294h1V299h-1z" fill="#ef5350"/>
<path d="M552 293h1V297h-1z" fill="#26a69a"/>
<path d="M553 293h1V298h-1zM554 294h1V300h-1z" fill="#ef5350"/>
<path d="M555 292h1V297h-1zM556 292h1V296h-1z" fill="#26a69a"/>
<path d="M556 294h1V296h-1zM557 292h1V297h-1zM558 291h1V298h-1z" fill="#ef5350"/>
<path d="M559 291h1V298h-1zM560 290h1V298h-1z" fill="#26a69a"/>
<path d="M561 290h1V294h-1zM562 292h1V298h-1zM563 294h1V299h-1z" fill="#ef5350"/>
<path d="M563 296h1V299h-1zM564 293h1V302h-1zM565 288h1V297h-1z" fill="#26a69a"/>
<path d="M565 294h1V297h-1z" fill="#ef5350"/>
<path d="M566 270h1V292h-1zM567 259h1V287h-1z" fill="#26a69a"/>
<path d="M568 262h1V282h-1z" fill="#ef5350"/>
<path d="M569 270h1V279h-1zM570 261h1V277h-1zM571 256h1V269h-1z" fill="#26a69a"/>
<path d="M571 256h1V263h-1z" fill="#ef5350"/>
<path d="M572 256h1V260h-1z" fill="#26a69a"/>
<path d="M572 256h1V258h-1zM573 252h1V268h-1z" fill="#ef5350"/>
<path d="M573 263h1V268h-1z" fill="#26a69a"/>
<path d="M574 259h1V271h-1z" fill="#ef5350"/>
<path d="M574 259h1V265h-1zM575 261h1V271h-1z" fill="#26a69a"/>
<path d="M575 268h1V271h-1zM576 261h1V274h-1zM577 264h1V279h-1z" fill="#ef5350"/>
<path d="M577 264h1V272h-1zM578 274h1V279h-1z" fill="#26a69a"/>
<path d="M579 274h1V287h-1zM580 276h1V297h-1z" fill="#ef5350"/>
<path d="M580 276h1V283h-1z" fill="#26a69a"/>
<path d="M581 285h1V302h-1zM582 296h1V312h-1z" fill="#ef5350"/>
<path d="M583 298h1V312h-1z" fill="#26a69a"/>
<path d="M583 298h1V305h-1z" fill="#ef5350"/>
<path d="M584 288h1V310h-1z" fill="#26a69a"/>
<path d="M585 292h1V309h-1z" fill="#ef5350"/>
<path d="M586 297h1V309h-1zM587 287h1V310h-1zM588 279h1V296h-1zM589 270h1V288h-1z" fill="#26a69a"/>
<path d="M589 280h1V288h-1zM590 269h1V283h-1zM591 267h1V292h-1z" fill="#ef5350"/>
<path d="M592 275h1V292h-1zM593 274h1V283h-1z" fill="#26a69a"/>
<path d="M594 275h1V299h-1zM595 281h1V323h-1zM596 305h1V322h-1z" fill="#ef5350"/>
<path d="M596 305h1V311h-1zM597 300h1V322h-1z" fill="#26a69a"/>
<path d="M597 300h1V311h-1zM598 302h1V319h-1z" fill="#ef5350"/>
<path d="M598 314h1V319h-1zM599 304h1V323h-1zM600 302h1V314h-1z" fill="#26a69a"/>
<path d="M600 302h1V307h-1zM601 302h1V309h-1z" fill="#ef5350"/>
<path d="M602 298h1V309h-1zM603 294h1V309h-1zM604 291h1V297h-1z" fill="#26a69a"/>
<path d="M604 291h1V293h-1z" fill="#ef5350"/>
<path d="M605 289h1V294h-1z" fill="#26a69a"/>
<path d="M606 285h1V305h-1z" fill="#ef5350"/>
<path d="M606 285h1V294h-1z" fill="#26a69a"/>
<path d="M607 289h1V315h-1z" fill="#ef5350"/>
<path d="M608 289h1V312h-1zM609 281h1V303h-1z" fill="#26a69a"/>
<path d="M610 281h1V314h-1zM611 296h1V344h-1zM612 323h1V350h-1z" fill="#ef5350"/>
<path d="M613 303h1V347h-1zM614 286h1V321h-1zM615 285h1V301h-1z" fill="#26a69a"/>
<path d="M615 295h1V301h-1z" fill="#ef5350"/>
<path d="M616 281h1V286h-1z" fill="#26a69a"/>
<path d="M616 281h1V284h-1zM617 284h1V289h-1z" fill="#ef5350"/>
<path d="M617 284h1V286h-1zM618 281h1V289h-1zM619 275h1V287h-1z" fill="#26a69a"/>
<path d="M620 275h1V287h-1z" fill="#ef5350"/>
<path d="M620 282h1V287h-1z" fill="#26a69a"/>
<path d="M621 282h1V287h-1z" fill="#ef5350"/>
<path d="M621 282h1V283h-1z" fill="#26a69a"/>
<path d="M622 284h1V291h-1zM623 284h1V303h-1z" fill="#ef5350"/>
<path d="M624 278h1V302h-1z" fill="#26a69a"/>
<path d="M625 278h1V303h-1zM626 282h1V325h-1zM627 308h1V337h-1zM628 326h1V352h-1zM629 338h1V384h-1z" fill="#ef5350"/>
<path d="M630 344h1V384h-1z" fill="#26a69a"/>
<path d="M631 344h1V359h-1zM632 351h1V366h-1z" fill="#ef5350"/>
<path d="M632 361h1V366h-1z" fill="#26a69a"/>
<path d="M633 360h1V381h-1z" fill="#ef5350"/>
<path d="M633 360h1V370h-1z" fill="#26a69a"/>
<path d="M634 367h1V388h-1z" fill="#ef5350"/>
<path d="M634 367h1V376h-1zM635 356h1V388h-1zM636 346h1V370h-1z" fill="#26a69a"/>
<path d="M637 346h1V380h-1zM638 362h1V392h-1z" fill="#ef5350"/>
<path d="M639 354h1V381h-1z" fill="#26a69a"/>
<path d="M640 359h1V401h-1zM641 383h1V402h-1zM642 388h1V415h-1zM643 396h1V422h-1z" fill="#ef5350"/>
<path d="M644 394h1V419h-1zM645 389h1V397h-1z" fill="#26a69a"/>
<path d="M645 394h1V397h-1zM646 392h1V399h-1zM647 394h1V399h-1z" fill="#ef5350"/>
<path d="M647 397h1V399h-1zM648 390h1V399h-1z" fill="#26a69a"/>
<path d="M649 392h1V399h-1z" fill="#ef5350"/>
<path d="M649 392h1V394h-1z" fill="#26a69a"/>
<path d="M650 391h1V402h-1zM651 396h1V406h-1zM652 399h1V411h-1zM653 407h1V422h-1zM654 412h1V434h-1zM655 421h1V437h-1z" fill="#ef5350"/>
<path d="M656 415h1V439h-1z" fill="#26a69a"/>
<path d="M657 415h1V443h-1z" fill="#ef5350"/>
<path d="M658 414h1V439h-1zM659 401h1V432h-1zM660 399h1V407h-1z" fill="#26a69a"/>
<path d="M661 399h1V401h-1zM662 400h1V405h-1z" fill="#ef5350"/>
<path d="M662 400h1V402h-1zM663 396h1V404h-1z" fill="#26a69a"/>
<path d="M663 401h1V404h-1z" fill="#ef5350"/>
<path d="M664 389h1V399h-1zM665 387h1V395h-1z" fill="#26a69a"/>
<path d="M666 387h1V399h-1z" fill="#ef5350"/>
<path d="M667 389h1V399h-1z" fill="#26a69a"/>
<path d="M667 389h1V394h-1z" fill="#ef5350"/>
<path d="M668 383h1V398h-1zM669 374h1V391h-1z" fill="#26a69a"/>
<path d="M669 374h1V382h-1zM670 374h1V383h-1z" fill="#ef5350"/>
<path d="M670 380h1V383h-1z" fill="#26a69a"/>
<path d="M671 373h1V387h-1z" fill="#ef5350"/>
<path d="M672 369h1V387h-1z" fill="#26a69a"/>
<path d="M672 379h1V387h-1zM673 368h1V379h-1z" fill="#ef5350"/>
<path d="M673 368h1V372h-1z" fill="#26a69a"/>
<path d="M674 370h1V383h-1z" fill="#ef5350"/>
<path d="M674 377h1V383h-1zM675 374h1V382h-1z" fill="#26a69a"/>
<path d="M676 374h1V381h-1z" fill="#ef5350"/>
<path d="M676 374h1V378h-1z" fill="#26a69a"/>
<path d="M677 375h1V384h-1z" fill="#ef5350"/>
<path d="M678 372h1V384h-1z" fill="#26a69a"/>
<path d="M678 372h1V376h-1zM679 372h1V388h-1z" fill="#ef5350"/>
<path d="M679 372h1V379h-1zM680 363h1V392h-1zM681 358h1V381h-1zM682 352h1V376h-1zM683 351h1V370h-1z" fill="#26a69a"/>
<path d="M683 364h1V370h-1zM684 351h1V370h-1z" fill="#ef5350"/>
<path d="M684 362h1V370h-1zM685 358h1V369h-1z" fill="#26a69a"/>
<path d="M686 359h1V367h-1z" fill="#ef5350"/>
<path d="M686 359h1V362h-1z" fill="#26a69a"/>
<path d="M687 359h1V376h-1zM688 367h1V386h-1zM689 377h1V387h-1z" fill="#ef5350"/>
<path d="M690 379h1V387h-1z" fill="#26a69a"/>
<path d="M691 379h1V398h-1z" fill="#ef5350"/>
<path d="M692 371h1V398h-1zM693 363h1V389h-1z" fill="#26a69a"/>
<path d="M694 367h1V412h-1zM695 394h1V422h-1z" fill="#ef5350"/>
<path d="M696 400h1V422h-1z" fill="#26a69a"/>
<path d="M696 410h1V422h-1z" fill="#ef5350"/>
<path d="M697 393h1V410h-1z" fill="#26a69a"/>
<path d="M697 393h1V401h-1zM698 392h1V403h-1z" fill="#ef5350"/>
<path d="M698 399h1V403h-1z" fill="#26a69a"/>
<path d="M699 392h1V409h-1z" fill="#ef5350"/>
<path d="M700 387h1V407h-1z" fill="#26a69a"/>
<path d="M701 387h1V398h-1z" fill="#ef5350"/>
<path d="M701 387h1V391h-1z" fill="#26a69a"/>
<path d="M702 392h1V403h-1zM703 391h1V404h-1z" fill="#ef5350"/>
<path d="M703 397h1V404h-1zM704 384h1V404h-1z" fill="#26a69a"/>
<path d="M704 396h1V404h-1zM705 383h1V394h-1zM706 386h1V394h-1z" fill="#ef5350"/>
<path d="M707 383h1V394h-1z" fill="#26a69a"/>
<path d="M708 383h1V396h-1zM709 382h1V401h-1z" fill="#ef5350"/>
<path d="M710 354h1V403h-1zM711 351h1V369h-1z" fill="#26a69a"/>
<path d="M712 351h1V362h-1z" fill="#ef5350"/>
<path d="M712 351h1V356h-1z" fill="#26a69a"/>
<path d="M713 353h1V367h-1z" fill="#ef5350"/>
<path d="M714 361h1V367h-1z" fill="#26a69a"/>
<path d="M715 361h1V370h-1z" fill="#ef5350"/>
<path d="M715 366h1V370h-1z" fill="#26a69a"/>
<path d="M716 363h1V380h-1zM717 369h1V384h-1z" fill="#ef5350"/>
<path d="M718 376h1V384h-1zM719 366h1V383h-1zM720 365h1V375h-1zM721 335h1V369h-1zM722 324h1V353h-1z" fill="#26a69a"/>
<path d="M723 327h1V341h-1z" fill="#ef5350"/>
<path d="M723 336h1V341h-1zM724 326h1V341h-1z" fill="#26a69a"/>
<path d="M724 332h1V341h-1zM725 324h1V351h-1z" fill="#ef5350"/>
<path d="M726 310h1V354h-1zM727 308h1V324h-1zM728 307h1V310h-1z" fill="#26a69a"/>
<path d="M728 309h1V310h-1z" fill="#ef5350"/>
<path d="M729 306h1V313h-1z" fill="#26a69a"/>
<path d="M730 306h1V322h-1zM731 311h1V328h-1z" fill="#ef5350"/>
<path d="M731 311h1V320h-1z" fill="#26a69a"/>
<path d="M732 322h1V329h-1z" fill="#ef5350"/>
<path d="M733 322h1V329h-1z" fill="#26a69a"/>
<path d="M734 321h1V328h-1z" fill="#ef5350"/>
<path d="M734 326h1V328h-1z" fill="#26a69a"/>
<path d="M735 321h1V337h-1z" fill="#ef5350"/>
<path d="M735 321h1V327h-1zM736 323h1V334h-1zM737 316h1V334h-1z" fill="#26a69a"/>
<path d="M737 328h1V334h-1zM738 313h1V333h-1zM739 315h1V349h-1z" fill="#ef5350"/>
<path d="M740 320h1V346h-1z" fill="#26a69a"/>
<path d="M741 324h1V338h-1zM742 326h1V339h-1z" fill="#ef5350"/>
<path d="M743 321h1V336h-1z" fill="#26a69a"/>
<path d="M744 321h1V331h-1zM745 323h1V335h-1zM746 330h1V336h-1z" fill="#ef5350"/>
<path d="M747 326h1V338h-1z" fill="#26a69a"/>
<path d="M747 334h1V338h-1z" fill="#ef5350"/>
<path d="M748 313h1V336h-1zM749 300h1V325h-1z" fill="#26a69a"/>
<path d="M750 300h1V315h-1z" fill="#ef5350"/>
<path d="M750 300h1V308h-1z" fill="#26a69a"/>
<path d="M751 303h1V319h-1z" fill="#ef5350"/>
<path d="M751 303h1V309h-1z" fill="#26a69a"/>
<path d="M752 314h1V320h-1z" fill="#ef5350"/>
<path d="M752 318h1V320h-1z" fill="#26a69a"/>
<path d="M753 316h1V324h-1zM754 318h1V327h-1zM755 324h1V331h-1z" fill="#ef5350"/>
<path d="M755 328h1V331h-1z" fill="#26a69a"/>
<path d="M756 327h1V339h-1z" fill="#ef5350"/>
<path d="M756 332h1V339h-1z" fill="#26a69a"/>
<path d="M757 331h1V337h-1z" fill="#ef5350"/>
<path d="M757 331h1V334h-1zM758 330h1V335h-1zM759 325h1V335h-1zM760 292h1V330h-1zM761 281h1V314h-1z" fill="#26a69a"/>
<path d="M762 282h1V302h-1z" fill="#ef5350"/>
<path d="M762 292h1V302h-1z" fill="#26a69a"/>
<path d="M763 292h1V302h-1z" fill="#ef5350"/>
<path d="M763 298h1V302h-1zM764 289h1V303h-1z" fill="#26a69a"/>
<path d="M764 289h1V295h-1z" fill="#ef5350"/>
<path d="M765 283h1V292h-1z" fill="#26a69a"/>
<path d="M765 283h1V286h-1z" fill="#ef5350"/>
<path d="M766 281h1V290h-1zM767 272h1V287h-1zM768 271h1V284h-1z" fill="#26a69a"/>
<path d="M769 272h1V286h-1z" fill="#ef5350"/>
<path d="M769 272h1V277h-1z" fill="#26a69a"/>
<path d="M770 281h1V296h-1z" fill="#ef5350"/>
<path d="M771 272h1V298h-1zM772 264h1V287h-1zM773 247h1V274h-1zM774 202h1V265h-1zM775 196h1V208h-1zM776 198h1V202h-1z" fill="#26a69a"/>
<path d="M776 198h1V199h-1zM777 196h1V211h-1z" fill="#ef5350"/>
<path d="M777 196h1V201h-1z" fill="#26a69a"/>
<path d="M778 199h1V214h-1z" fill="#ef5350"/>
<path d="M778 206h1V214h-1z" fill="#26a69a"/>
<path d="M779 211h1V234h-1zM780 216h1V262h-1zM781 238h1V267h-1z" fill="#ef5350"/>
<path d="M782 234h1V262h-1z" fill="#26a69a"/>
<path d="M783 234h1V269h-1z" fill="#ef5350"/>
<path d="M784 248h1V270h-1z" fill="#26a69a"/>
<path d="M785 252h1V293h-1zM786 271h1V297h-1z" fill="#ef5350"/>
<path d="M787 273h1V294h-1zM788 269h1V280h-1z" fill="#26a69a"/>
<path d="M789 269h1V284h-1zM790 271h1V288h-1z" fill="#ef5350"/>
<path d="M791 271h1V288h-1z" fill="#26a69a"/>
<path d="M792 268h1V286h-1z" fill="#ef5350"/>
<path d="M792 278h1V286h-1z" fill="#26a69a"/>
<path d="M793 274h1V291h-1z" fill="#ef5350"/>
<path d="M793 282h1V291h-1zM794 280h1V295h-1zM795 260h1V292h-1zM796 248h1V275h-1z" fill="#26a69a"/>
<path d="M797 247h1V270h-1zM798 249h1V270h-1z" fill="#ef5350"/>
<path d="M799 249h1V272h-1zM800 245h1V258h-1z" fill="#26a69a"/>
<path d="M801 245h1V260h-1zM802 244h1V273h-1z" fill="#ef5350"/>
<path d="M803 257h1V273h-1zM804 257h1V270h-1z" fill="#26a69a"/>
<path d="M804 264h1V270h-1zM805 257h1V276h-1z" fill="#ef5350"/>
<path d="M806 251h1V276h-1zM807 244h1V269h-1zM808 235h1V250h-1z" fill="#26a69a"/>
<path d="M808 235h1V243h-1z" fill="#ef5350"/>
<path d="M809 211h1V243h-1z" fill="#26a69a"/>
<path d="M810 202h1V249h-1z" fill="#ef5350"/>
<path d="M811 207h1V246h-1z" fill="#26a69a"/>
<path d="M812 205h1V217h-1z" fill="#ef5350"/>
<path d="M813 183h1V217h-1z" fill="#26a69a"/>
<path d="M814 181h1V195h-1z" fill="#ef5350"/>
<path d="M814 190h1V195h-1zM815 146h1V191h-1z" fill="#26a69a"/>
<path d="M816 147h1V168h-1zM817 150h1V172h-1zM818 160h1V183h-1zM819 172h1V212h-1zM820 194h1V221h-1z" fill="#ef5350"/>
<path d="M821 205h1V219h-1z" fill="#26a69a"/>
<path d="M822 203h1V233h-1zM823 216h1V278h-1zM824 253h1V303h-1zM825 265h1V306h-1zM826 287h1V314h-1z" fill="#ef5350"/>
<path d="M827 297h1V317h-1zM828 286h1V317h-1z" fill="#26a69a"/>
<path d="M829 286h1V301h-1z" fill="#ef5350"/>
<path d="M830 285h1V301h-1zM831 274h1V293h-1zM832 264h1V284h-1z" fill="#26a69a"/>
<path d="M832 276h1V284h-1zM833 266h1V277h-1z" fill="#ef5350"/>
<path d="M833 273h1V277h-1z" fill="#26a69a"/>
<path d="M834 266h1V280h-1z" fill="#ef5350"/>
<path d="M835 270h1V280h-1z" fill="#26a69a"/>
<path d="M835 277h1V280h-1zM836 270h1V278h-1z" fill="#ef5350"/>
<path d="M836 270h1V273h-1z" fill="#26a69a"/>
<path d="M837 272h1V280h-1zM838 270h1V288h-1z" fill="#ef5350"/>
<path d="M838 270h1V277h-1z" fill="#26a69a"/>
<path d="M839 270h1V325h-1z" fill="#ef5350"/>
<path d="M840 306h1V325h-1z" fill="#26a69a"/>
<path d="M840 316h1V325h-1z" fill="#ef5350"/>
<path d="M841 301h1V322h-1z" fill="#26a69a"/>
<path d="M842 301h1V324h-1z" fill="#ef5350"/>
<path d="M843 306h1V324h-1zM844 300h1V316h-1zM845 300h1V308h-1zM846 298h1V303h-1z" fill="#26a69a"/>
<path d="M847 298h1V310h-1zM848 300h1V308h-1z" fill="#ef5350"/>
<path d="M849 301h1V308h-1z" fill="#26a69a"/>
<path d="M849 301h1V304h-1zM850 301h1V313h-1z" fill="#ef5350"/>
<path d="M850 307h1V313h-1z" fill="#26a69a"/>
<path d="M851 305h1V315h-1z" fill="#ef5350"/>
<path d="M851 309h1V315h-1zM852 299h1V313h-1z" fill="#26a69a"/>
<path d="M852 309h1V313h-1z" fill="#ef5350"/>
<path d="M853 301h1V309h-1zM854 301h1V305h-1z" fill="#26a69a"/>
<path d="M854 303h1V305h-1zM855 299h1V303h-1z" fill="#ef5350"/>
<path d="M855 301h1V303h-1z" fill="#26a69a"/>
<path d="M856 302h1V305h-1zM857 304h1V308h-1z" fill="#ef5350"/>
<path d="M857 305h1V308h-1z" fill="#26a69a"/>
<path d="M858 302h1V312h-1z" fill="#ef5350"/>
<path d="M858 308h1V312h-1z" fill="#26a69a"/>
<path d="M859 308h1V315h-1z" fill="#ef5350"/>
<path d="M860 304h1V315h-1z" fill="#26a69a"/>
<path d="M860 304h1V308h-1z" fill="#ef5350"/>
<path d="M861 295h1V312h-1z" fill="#26a69a"/>
<path d="M861 305h1V312h-1z" fill="#ef5350"/>
<path d="M862 291h1V310h-1z" fill="#26a69a"/>
<path d="M863 291h1V297h-1z" fill="#ef5350"/>
<path d="M864 290h1V294h-1zM865 282h1V294h-1z" fill="#26a69a"/>
<path d="M865 288h1V294h-1z" fill="#ef5350"/>
<path d="M866 284h1V289h-1z" fill="#26a69a"/>
<path d="M866 287h1V289h-1zM867 284h1V289h-1zM868 283h1V295h-1z" fill="#ef5350"/>
<path d="M868 290h1V295h-1z" fill="#26a69a"/>
<path d="M869 286h1V302h-1zM870 296h1V311h-1z" fill="#ef5350"/>
<path d="M870 303h1V311h-1z" fill="#26a69a"/>
<path d="M871 302h1V312h-1z" fill="#ef5350"/>
<path d="M871 302h1V307h-1zM872 298h1V312h-1z" fill="#26a69a"/>
<path d="M872 298h1V305h-1zM873 294h1V315h-1zM874 301h1V339h-1zM875 321h1V361h-1zM876 345h1V363h-1z" fill="#ef5350"/>
<path d="M877 351h1V361h-1z" fill="#26a69a"/>
<path d="M878 350h1V374h-1z" fill="#ef5350"/>
<path d="M879 362h1V374h-1z" fill="#26a69a"/>
<path d="M879 362h1V367h-1z" fill="#ef5350"/>
<path d="M880 359h1V372h-1z" fill="#26a69a"/>
<path d="M880 365h1V372h-1zM881 357h1V370h-1z" fill="#ef5350"/>
<path d="M881 363h1V370h-1zM882 345h1V370h-1zM883 332h1V365h-1zM884 326h1V346h-1z" fill="#26a69a"/>
<path d="M884 326h1V336h-1zM885 324h1V341h-1z" fill="#ef5350"/>
<path d="M886 320h1V341h-1z" fill="#26a69a"/>
<path d="M887 321h1V338h-1zM888 323h1V339h-1zM889 327h1V350h-1zM890 329h1V376h-1zM891 358h1V380h-1z" fill="#ef5350"/>
<path d="M892 359h1V380h-1zM893 354h1V369h-1zM894 350h1V359h-1zM895 348h1V358h-1z" fill="#26a69a"/>
<path d="M895 352h1V358h-1zM896 348h1V381h-1zM897 363h1V407h-1zM898 384h1V420h-1z" fill="#ef5350"/>
<path d="M899 404h1V420h-1zM900 402h1V416h-1z" fill="#26a69a"/>
<path d="M900 402h1V408h-1zM901 398h1V415h-1zM902 408h1V423h-1z" fill="#ef5350"/>
<path d="M903 405h1V425h-1z" fill="#26a69a"/>
<path d="M903 405h1V413h-1z" fill="#ef5350"/>
<path d="M904 400h1V421h-1zM905 396h1V404h-1z" fill="#26a69a"/>
<path d="M905 399h1V404h-1z" fill="#ef5350"/>
<path d="M906 387h1V400h-1zM907 387h1V395h-1z" fill="#26a69a"/>
<path d="M907 387h1V391h-1zM908 387h1V402h-1z" fill="#ef5350"/>
<path d="M908 395h1V402h-1zM909 392h1V404h-1z" fill="#26a69a"/>
<path d="M909 392h1V396h-1zM910 392h1V429h-1z" fill="#ef5350"/>
<path d="M911 397h1V430h-1zM912 382h1V415h-1zM913 377h1V390h-1z" fill="#26a69a"/>
<path d="M914 380h1V389h-1z" fill="#ef5350"/>
<path d="M914 384h1V389h-1z" fill="#26a69a"/>
<path d="M915 383h1V393h-1z" fill="#ef5350"/>
<path d="M915 388h1V393h-1zM916 376h1V392h-1zM917 371h1V381h-1z" fill="#26a69a"/>
<path d="M918 373h1V387h-1z" fill="#ef5350"/>
<path d="M918 373h1V380h-1z" fill="#26a69a"/>
<path d="M919 373h1V394h-1z" fill="#ef5350"/>
<path d="M919 373h1V383h-1z" fill="#26a69a"/>
<path d="M920 388h1V397h-1zM921 394h1V405h-1z" fill="#ef5350"/>
<path d="M921 399h1V405h-1z" fill="#26a69a"/>
<path d="M922 398h1V404h-1z" fill="#ef5350"/>
<path d="M922 401h1V404h-1zM923 392h1V406h-1z" fill="#26a69a"/>
<path d="M923 401h1V406h-1zM924 388h1V408h-1z" fill="#ef5350"/>
<path d="M924 399h1V408h-1z" fill="#26a69a"/>
<path d="M925 394h1V419h-1zM926 409h1V427h-1z" fill="#ef5350"/>
<path d="M926 409h1V419h-1z" fill="#26a69a"/>
<path d="M927 420h1V437h-1z" fill="#ef5350"/>
<path d="M928 425h1V437h-1z" fill="#26a69a"/>
<path d="M928 431h1V437h-1z" fill="#ef5350"/>
<path d="M929 420h1V436h-1z" fill="#26a69a"/>
<path d="M929 428h1V436h-1zM930 419h1V430h-1z" fill="#ef5350"/>
<path d="M931 407h1V430h-1zM932 404h1V429h-1z" fill="#26a69a"/>
<path d="M933 405h1V420h-1z" fill="#ef5350"/>
<path d="M933 405h1V409h-1zM934 405h1V420h-1zM935 403h1V415h-1z" fill="#26a69a"/>
<path d="M935 403h1V407h-1zM936 407h1V424h-1zM937 413h1V442h-1zM938 426h1V448h-1z" fill="#ef5350"/>
<path d="M939 371h1V444h-1zM940 315h1V389h-1z" fill="#26a69a"/>
<path d="M941 317h1V346h-1z" fill="#ef5350"/>
<path d="M942 313h1V340h-1z" fill="#26a69a"/>
<path d="M943 313h1V329h-1z" fill="#ef5350"/>
<path d="M943 313h1V322h-1zM944 320h1V329h-1z" fill="#26a69a"/>
<path d="M944 323h1V329h-1z" fill="#ef5350"/>
<path d="M945 318h1V326h-1z" fill="#26a69a"/>
<path d="M945 318h1V321h-1zM946 318h1V340h-1z" fill="#ef5350"/>
<path d="M946 328h1V340h-1z" fill="#26a69a"/>
<path d="M947 327h1V357h-1zM948 339h1V356h-1z" fill="#ef5350"/>
<path d="M948 347h1V356h-1zM949 346h1V360h-1z" fill="#26a69a"/>
<path d="M950 346h1V355h-1zM951 348h1V358h-1z" fill="#ef5350"/>
<path d="M951 353h1V358h-1z" fill="#26a69a"/>
<path d="M952 353h1V364h-1zM953 358h1V375h-1z" fill="#ef5350"/>
<path d="M953 358h1V368h-1z" fill="#26a69a"/>
<path d="M954 365h1V379h-1z" fill="#ef5350"/>
<path d="M955 363h1V379h-1zM956 365h1V373h-1z" fill="#26a69a"/>
<path d="M956 365h1V370h-1z" fill="#ef5350"/>
<path d="M957 363h1V366h-1z" fill="#26a69a"/>
<path d="M957 363h1V365h-1z" fill="#ef5350"/>
<path d="M958 358h1V364h-1z" fill="#26a69a"/>
<path d="M958 362h1V364h-1z" fill="#ef5350"/>
<path d="M959 357h1V363h-1zM960 353h1V361h-1z" fill="#26a69a"/>
<path d="M960 358h1V361h-1zM961 353h1V361h-1z" fill="#ef5350"/>
<path d="M961 353h1V357h-1z" fill="#26a69a"/>
<path d="M962 355h1V367h-1z" fill="#ef5350"/>
<path d="M962 355h1V362h-1z" fill="#26a69a"/>
<path d="M963 362h1V369h-1z" fill="#ef5350"/>
<path d="M963 362h1V365h-1z" fill="#26a69a"/>
<path d="M964 366h1V375h-1zM965 367h1V375h-1zM966 372h1V377h-1zM967 375h1V380h-1z" fill="#ef5350"/>
<path d="M967 378h1V380h-1zM968 376h1V381h-1zM969 372h1V382h-1z" fill="#26a69a"/>
<path d="M969 372h1V375h-1zM970 372h1V393h-1z" fill="#ef5350"/>
<path d="M970 372h1V382h-1z" fill="#26a69a"/>
<path d="M971 375h1V468h-1z" fill="#ef5350"/>
<path d="M972 416h1V458h-1zM973 411h1V431h-1zM974 398h1V429h-1z" fill="#26a69a"/>
<path d="M975 398h1V408h-1z" fill="#ef5350"/>
<path d="M975 398h1V404h-1z" fill="#26a69a"/>
<path d="M976 399h1V431h-1zM977 412h1V440h-1zM978 430h1V457h-1zM979 442h1V464h-1z" fill="#ef5350"/>
<path d="M980 457h1V463h-1z" fill="#26a69a"/>
<path d="M980 459h1V463h-1zM981 457h1V466h-1z" fill="#ef5350"/>
<path d="M981 457h1V462h-1zM982 452h1V469h-1zM983 418h1V473h-1zM984 416h1V436h-1z" fill="#26a69a"/>
<path d="M985 416h1V457h-1zM986 439h1V497h-1z" fill="#ef5350"/>
<path d="M987 469h1V497h-1z" fill="#26a69a"/>
<path d="M988 469h1V515h-1z" fill="#ef5350"/>
<path d="M989 484h1V513h-1zM990 482h1V502h-1z" fill="#26a69a"/>
<path d="M990 492h1V502h-1zM991 483h1V497h-1z" fill="#ef5350"/>
<path d="M991 483h1V491h-1zM992 474h1V494h-1zM993 474h1V486h-1z" fill="#26a69a"/>
<path d="M993 482h1V486h-1zM994 475h1V482h-1z" fill="#ef5350"/>
<path d="M995 468h1V482h-1z" fill="#26a69a"/>
<path d="M996 468h1V489h-1zM997 470h1V497h-1z" fill="#ef5350"/>
<path d="M998 482h1V497h-1zM999 460h1V491h-1zM1000 450h1V481h-1zM1001 440h1V456h-1z" fill="#26a69a"/>
<path d="M1001 440h1V445h-1z" fill="#ef5350"/>
<path d="M1002 430h1V449h-1z" fill="#26a69a"/>
<path d="M1003 429h1V448h-1z" fill="#ef5350"/>
<path d="M1003 440h1V448h-1z" fill="#26a69a"/>
<path d="M1004 430h1V462h-1z" fill="#ef5350"/>
<path d="M1005 446h1V462h-1z" fill="#26a69a"/>
<path d="M1006 445h1V462h-1z" fill="#ef5350"/>
<path d="M1006 445h1V454h-1z" fill="#26a69a"/>
<path d="M1007 445h1V474h-1z" fill="#ef5350"/>
<path d="M1008 458h1V476h-1z" fill="#26a69a"/>
<path d="M1008 458h1V464h-1z" fill="#ef5350"/>
<path d="M1009 454h1V469h-1z" fill="#26a69a"/>
<path d="M1009 463h1V469h-1z" fill="#ef5350"/>
<path d="M1010 445h1V459h-1z" fill="#26a69a"/>
<path d="M1010 445h1V453h-1z" fill="#ef5350"/>
<path d="M1011 426h1V453h-1zM1012 420h1V443h-1z" fill="#26a69a"/>
<path d="M1013 422h1V441h-1z" fill="#ef5350"/>
<path d="M1013 422h1V428h-1zM1014 424h1V444h-1z" fill="#26a69a"/>
<path d="M1014 436h1V444h-1zM1015 424h1V457h-1z" fill="#ef5350"/>
<path d="M1016 429h1V459h-1z" fill="#26a69a"/>
<path d="M1017 425h1V463h-1z" fill="#ef5350"/>
<path d="M1018 441h1V466h-1zM1019 417h1V457h-1zM1020 409h1V438h-1zM1021 406h1V415h-1z" fill="#26a69a"/>
<path d="M1022 403h1V414h-1zM1023 408h1V416h-1z" fill="#ef5350"/>
<path d="M1024 403h1V418h-1z" fill="#26a69a"/>
<path d="M1025 403h1V412h-1zM1026 405h1V416h-1zM1027 410h1V425h-1z" fill="#ef5350"/>
<path d="M1027 420h1V425h-1z" fill="#26a69a"/>
<path d="M1028 417h1V436h-1zM1029 426h1V440h-1z" fill="#ef5350"/>
<path d="M1029 426h1V431h-1zM1030 426h1V440h-1z" fill="#26a69a"/>
<path d="M1030 435h1V440h-1z" fill="#ef5350"/>
<path d="M1031 422h1V434h-1z" fill="#26a69a"/>
<path d="M1031 428h1V434h-1zM1032 422h1V439h-1z" fill="#ef5350"/>
<path d="M1032 422h1V431h-1z" fill="#26a69a"/>
<path d="M1033 425h1V446h-1zM1034 440h1V452h-1zM1035 445h1V458h-1zM1036 448h1V489h-1zM1037 471h1V499h-1z" fill="#ef5350"/>
<path d="M1038 454h1V495h-1z" fill="#26a69a"/>
<path d="M1039 449h1V481h-1zM1040 461h1V527h-1z" fill="#ef5350"/>
<path d="M1041 507h1V527h-1z" fill="#26a69a"/>
<path d="M1042 511h1V532h-1z" fill="#ef5350"/>
<path d="M1042 511h1V521h-1z" fill="#26a69a"/>
<path d="M1043 512h1V542h-1z" fill="#ef5350"/>
<path d="M1044 521h1V542h-1z" fill="#26a69a"/>
<path d="M1044 521h1V532h-1z" fill="#ef5350"/>
<path d="M1045 520h1V534h-1z" fill="#26a69a"/>
<path d="M1046 518h1V544h-1z" fill="#ef5350"/>
<path d="M1047 520h1V547h-1zM1048 517h1V541h-1z" fill="#26a69a"/>
<path d="M1049 517h1V525h-1z" fill="#ef5350"/>
<path d="M1050 516h1V525h-1zM1051 515h1V522h-1z" fill="#26a69a"/>
<path d="M1051 515h1V519h-1zM1052 515h1V525h-1z" fill="#ef5350"/>
<path d="M1052 515h1V521h-1zM1053 513h1V522h-1z" fill="#26a69a"/>
<path d="M1053 517h1V522h-1z" fill="#ef5350"/>
<path d="M1054 512h1V519h-1z" fill="#26a69a"/>
<path d="M1055 512h1V517h-1z" fill="#ef5350"/>
<path d="M1056 511h1V519h-1zM1057 506h1V515h-1z" fill="#26a69a"/>
<path d="M1057 506h1V509h-1zM1058 510h1V519h-1z" fill="#ef5350"/>
<path d="M1059 513h1V521h-1z" fill="#26a69a"/>
<path d="M1059 517h1V521h-1z" fill="#ef5350"/>
<path d="M1060 499h1V517h-1zM1061 492h1V513h-1z" fill="#26a69a"/>
<path d="M1061 505h1V513h-1zM1062 496h1V520h-1z" fill="#ef5350"/>
<path d="M1063 507h1V517h-1z" fill="#26a69a"/>
<path d="M1063 507h1V513h-1z" fill="#ef5350"/>
<path d="M1064 505h1V515h-1z" fill="#26a69a"/>
<path d="M1065 505h1V519h-1z" fill="#ef5350"/>
<path d="M1065 505h1V512h-1z" fill="#26a69a"/>
<path d="M1066 511h1V521h-1z" fill="#ef5350"/>
<path d="M1066 517h1V521h-1z" fill="#26a69a"/>
<path d="M1067 518h1V527h-1z" fill="#ef5350"/>
<path d="M1067 518h1V523h-1zM1068 519h1V524h-1zM1069 512h1V523h-1zM1070 504h1V521h-1zM1071 503h1V511h-1z" fill="#26a69a"/>
<path d="M1072 500h1V509h-1zM1073 502h1V520h-1zM1074 509h1V529h-1z" fill="#ef5350"/>
<path d="M1074 517h1V529h-1z" fill="#26a69a"/>
<path d="M1075 521h1V540h-1z" fill="#ef5350"/>
<path d="M1075 531h1V540h-1z" fill="#26a69a"/>
<path d="M1076 530h1V548h-1zM1077 535h1V547h-1z" fill="#ef5350"/>
<path d="M1077 543h1V547h-1zM1078 515h1V547h-1zM1079 487h1V536h-1z" fill="#26a69a"/>
<path d="M1080 486h1V509h-1zM1081 491h1V525h-1z" fill="#ef5350"/>
<path d="M1082 495h1V525h-1zM1083 497h1V514h-1z" fill="#26a69a"/>
<path d="M1083 497h1V505h-1zM1084 498h1V520h-1z" fill="#ef5350"/>
<path d="M1085 499h1V517h-1z" fill="#26a69a"/>
<path d="M1085 507h1V517h-1zM1086 502h1V520h-1z" fill="#ef5350"/>
<path d="M1086 514h1V520h-1z" fill="#26a69a"/>
<path d="M1087 500h1V540h-1z" fill="#ef5350"/>
<path d="M1088 514h1V542h-1zM1089 497h1V534h-1zM1090 484h1V506h-1zM1091 468h1V496h-1z" fill="#26a69a"/>
<path d="M1092 469h1V481h-1zM1093 473h1V482h-1z" fill="#ef5350"/>
<path d="M1093 473h1V478h-1zM1094 468h1V482h-1z" fill="#26a69a"/>
<path d="M1095 468h1V498h-1zM1096 480h1V520h-1z" fill="#ef5350"/>
<path d="M1097 451h1V521h-1z" fill="#26a69a"/>
<path d="M1098 444h1V473h-1zM1099 455h1V479h-1z" fill="#ef5350"/>
<path d="M1100 462h1V479h-1z" fill="#26a69a"/>
<path d="M1100 471h1V479h-1z" fill="#ef5350"/>
<path d="M1101 454h1V471h-1z" fill="#26a69a"/>
<path d="M1101 464h1V471h-1z" fill="#ef5350"/>
<path d="M1102 447h1V461h-1z" fill="#26a69a"/>
<path d="M1102 454h1V461h-1z" fill="#ef5350"/>
<path d="M1103 443h1V453h-1z" fill="#26a69a"/>
<path d="M1103 443h1V448h-1zM1104 443h1V458h-1z" fill="#ef5350"/>
<path d="M1104 443h1V451h-1z" fill="#26a69a"/>
<path d="M1105 447h1V466h-1z" fill="#ef5350"/>
<path d="M1105 456h1V466h-1z" fill="#26a69a"/>
<path d="M1106 457h1V469h-1z" fill="#ef5350"/>
<path d="M1106 457h1V461h-1z" fill="#26a69a"/>
<path d="M1107 464h1V474h-1z" fill="#ef5350"/>
<path d="M1108 456h1V470h-1zM1109 453h1V463h-1zM1110 441h1V456h-1zM1111 426h1V452h-1zM1112 425h1V439h-1zM1113 424h1V426h-1z" fill="#26a69a"/>
<path d="M1114 424h1V436h-1z" fill="#ef5350"/>
<path d="M1114 432h1V436h-1z" fill="#26a69a"/>
<path d="M1115 426h1V441h-1z" fill="#ef5350"/>
<path d="M1116 428h1V441h-1zM1117 431h1V437h-1z" fill="#26a69a"/>
<path d="M1118 432h1V442h-1zM1119 435h1V452h-1z" fill="#ef5350"/>
<path d="M1119 443h1V452h-1z" fill="#26a69a"/>
<path d="M1120 443h1V462h-1z" fill="#ef5350"/>
<path d="M1120 451h1V462h-1z" fill="#26a69a"/>
<path d="M1121 453h1V471h-1z" fill="#ef5350"/>
<path d="M1121 460h1V471h-1z" fill="#26a69a"/>
<path d="M1122 463h1V479h-1z" fill="#ef5350"/>
<path d="M1122 463h1V469h-1zM1123 459h1V478h-1zM1124 459h1V469h-1z" fill="#26a69a"/>
<path d="M1125 460h1V480h-1zM1126 468h1V489h-1zM1127 477h1V499h-1z" fill="#ef5350"/>
<path d="M1127 492h1V499h-1zM1128 490h1V499h-1z" fill="#26a69a"/>
<path d="M1128 495h1V499h-1z" fill="#ef5350"/>
<path d="M1129 482h1V496h-1z" fill="#26a69a"/>
<path d="M1129 482h1V488h-1z" fill="#ef5350"/>
<path d="M1130 465h1V489h-1zM1131 447h1V481h-1zM1132 444h1V467h-1z" fill="#26a69a"/>
<path d="M1133 447h1V472h-1z" fill="#ef5350"/>
<path d="M1134 453h1V473h-1z" fill="#26a69a"/>
<path d="M1134 453h1V463h-1z" fill="#ef5350"/>
<path d="M1135 443h1V462h-1zM1136 419h1V452h-1zM1137 415h1V440h-1z" fill="#26a69a"/>
<path d="M1138 415h1V438h-1z" fill="#ef5350"/>
<path d="M1139 405h1V437h-1z" fill="#26a69a"/>
<path d="M1140 405h1V421h-1z" fill="#ef5350"/>
<path d="M1140 414h1V421h-1z" fill="#26a69a"/>
<path d="M1141 409h1V462h-1zM1142 440h1V479h-1z" fill="#ef5350"/>
<path d="M1143 455h1V479h-1zM1144 443h1V470h-1z" fill="#26a69a"/>
<path d="M1145 445h1V462h-1z" fill="#ef5350"/>
<path d="M1145 445h1V452h-1z" fill="#26a69a"/>
<path d="M1146 445h1V474h-1z" fill="#ef5350"/>
<path d="M1147 454h1V474h-1z" fill="#26a69a"/>
<path d="M1147 463h1V474h-1zM1148 454h1V463h-1z" fill="#ef5350"/>
<path d="M1148 454h1V459h-1z" fill="#26a69a"/>
<path d="M1149 456h1V465h-1z" fill="#ef5350"/>
<path d="M1149 461h1V465h-1z" fill="#26a69a"/>
<path d="M1150 463h1V469h-1z" fill="#ef5350"/>
<path d="M1151 464h1V467h-1zM1152 463h1V470h-1z" fill="#26a69a"/>
<path d="M1152 466h1V470h-1zM1153 463h1V467h-1z" fill="#ef5350"/>
<path d="M1153 465h1V467h-1zM1154 463h1V467h-1z" fill="#26a69a"/>
<path d="M1155 460h1V474h-1z" fill="#ef5350"/>
<path d="M1155 465h1V474h-1z" fill="#26a69a"/>
<path d="M1156 459h1V482h-1zM1157 473h1V483h-1z" fill="#ef5350"/>
<path d="M1158 481h1V483h-1zM1159 478h1V483h-1z" fill="#26a69a"/>
<path d="M1159 478h1V480h-1z" fill="#ef5350"/>
<path d="M1160 474h1V481h-1zM1161 469h1V478h-1zM1162 467h1V477h-1z" fill="#26a69a"/>
<path d="M1163 467h1V472h-1z" fill="#ef5350"/>
<path d="M1163 470h1V472h-1zM1164 465h1V472h-1zM1165 459h1V472h-1zM1166 453h1V464h-1z" fill="#26a69a"/>
<path d="M1166 453h1V459h-1z" fill="#ef5350"/>
<path d="M1167 453h1V459h-1z" fill="#26a69a"/>
<path d="M1167 457h1V459h-1zM1168 453h1V459h-1z" fill="#ef5350"/>
<path d="M1168 457h1V459h-1zM1169 450h1V459h-1z" fill="#26a69a"/>
<path d="M1169 450h1V453h-1z" fill="#ef5350"/>
<path d="M1170 451h1V458h-1z" fill="#26a69a"/>
<path d="M1171 452h1V461h-1z" fill="#ef5350"/>
<path d="M1172 454h1V459h-1zM1173 451h1V457h-1zM1174 449h1V455h-1z" fill="#26a69a"/>
<path d="M1175 449h1V460h-1zM1176 453h1V468h-1zM1177 461h1V471h-1z" fill="#ef5350"/>
<path d="M1178 451h1V469h-1z" fill="#26a69a"/>
<path d="M1178 451h1V460h-1z" fill="#ef5350"/>
<path d="M1179 443h1V460h-1z" fill="#26a69a"/>
<path d="M1179 450h1V460h-1z" fill="#ef5350"/>
<path d="M1180 437h1V454h-1z" fill="#26a69a"/>
<path d="M1180 437h1V444h-1z" fill="#ef5350"/>
<path d="M1181 433h1V442h-1zM1182 432h1V437h-1z" fill="#26a69a"/>
<path d="M1182 432h1V434h-1z" fill="#ef5350"/>
<path d="M1183 424h1V436h-1zM1184 417h1V431h-1z" fill="#26a69a"/>
<path d="M1185 417h1V433h-1z" fill="#ef5350"/>
<path d="M1185 423h1V433h-1z" fill="#26a69a"/>
<path d="M1186 421h1V438h-1z" fill="#ef5350"/>
<path d="M1187 426h1V438h-1z" fill="#26a69a"/>
<path d="M1188 426h1V436h-1zM1189 429h1V439h-1zM1190 429h1V446h-1z" fill="#ef5350"/>
<path d="M1190 439h1V446h-1z" fill="#26a69a"/>
<path d="M1191 431h1V458h-1z" fill="#ef5350"/>
<path d="M1192 432h1V458h-1zM1193 421h1V441h-1z" fill="#26a69a"/>
<path d="M1193 430h1V441h-1z" fill="#ef5350"/>
<path d="M1194 408h1V431h-1z" fill="#26a69a"/>
<path d="M1195 408h1V418h-1zM1196 411h1V416h-1zM1197 414h1V431h-1zM1198 417h1V458h-1zM1199 442h1V465h-1z" fill="#ef5350"/>
<path d="M1200 454h1V465h-1zM1201 450h1V460h-1z" fill="#26a69a"/>
<path d="M1201 457h1V460h-1z" fill="#ef5350"/>
<path d="M1202 448h1V453h-1z" fill="#26a69a"/>
<path d="M1202 448h1V450h-1z" fill="#ef5350"/>
<path d="M1203 442h1V450h-1z" fill="#26a69a"/>
<path d="M1204 445h1V456h-1z" fill="#ef5350"/>
<path d="M1204 445h1V451h-1z" fill="#26a69a"/>
<path d="M1205 446h1V462h-1z" fill="#ef5350"/>
<path d="M1205 457h1V462h-1zM1206 447h1V462h-1z" fill="#26a69a"/>
<path d="M1206 455h1V462h-1z" fill="#ef5350"/>
<path d="M1207 442h1V457h-1z" fill="#26a69a"/>
<path d="M1207 442h1V450h-1z" fill="#ef5350"/>
<path d="M1208 430h1V451h-1z" fill="#26a69a"/>
<path d="M1208 443h1V451h-1z" fill="#ef5350"/>
<path d="M1209 415h1V442h-1z" fill="#26a69a"/>
<path d="M1210 419h1V434h-1z" fill="#ef5350"/>
<path d="M1211 420h1V434h-1z" fill="#26a69a"/>
<path d="M1211 420h1V427h-1z" fill="#ef5350"/>
<path d="M1212 383h1V431h-1z" fill="#26a69a"/>
<path d="M1213 380h1V400h-1zM1214 387h1V403h-1z" fill="#ef5350"/>
<path d="M1214 396h1V403h-1z" fill="#26a69a"/>
<path d="M1215 396h1V412h-1z" fill="#ef5350"/>
<path d="M1216 397h1V408h-1zM1217 394h1V408h-1z" fill="#26a69a"/>
<path d="M1217 394h1V401h-1z" fill="#ef5350"/>
<path d="M1218 392h1V396h-1zM1219 388h1V394h-1zM1220 384h1V393h-1z" fill="#26a69a"/>
<path d="M1220 384h1V387h-1z" fill="#ef5350"/>
<path d="M1221 381h1V387h-1z" fill="#26a69a"/>
<path d="M1222 381h1V391h-1zM1223 382h1V391h-1z" fill="#ef5350"/>
<path d="M1224 384h1V391h-1z" fill="#26a69a"/>
<path d="M1225 384h1V400h-1zM1226 389h1V403h-1z" fill="#ef5350"/>
<path d="M1227 375h1V403h-1z" fill="#26a69a"/>
<path d="M1228 374h1V388h-1zM1229 377h1V384h-1z" fill="#ef5350"/>
<path d="M1230 375h1V386h-1z" fill="#26a69a"/>
<path d="M1230 381h1V386h-1z" fill="#ef5350"/>
<path d="M1231 366h1V381h-1z" fill="#26a69a"/>
<path d="M1231 375h1V381h-1z" fill="#ef5350"/>
<path d="M1232 348h1V374h-1zM1233 335h1V365h-1z" fill="#26a69a"/>
<path d="M1234 336h1V360h-1z" fill="#ef5350"/>
<path d="M1235 353h1V360h-1z" fill="#26a69a"/>
<path d="M1236 353h1V360h-1zM1237 354h1V365h-1z" fill="#ef5350"/>
<path d="M1237 361h1V365h-1z" fill="#26a69a"/>
<path d="M1238 361h1V368h-1z" fill="#ef5350"/>
<path d="M1238 361h1V364h-1z" fill="#26a69a"/>
<path d="M1239 365h1V371h-1zM1240 368h1V372h-1z" fill="#ef5350"/>
<path d="M1241 362h1V375h-1z" fill="#26a69a"/>
<path d="M1241 368h1V375h-1z" fill="#ef5350"/>
<path d="M1242 349h1V368h-1z" fill="#26a69a"/>
<path d="M1242 349h1V358h-1z" fill="#ef5350"/>
<path d="M1243 335h1V361h-1zM1244 326h1V349h-1z" fill="#26a69a"/>
<path d="M1245 326h1V337h-1zM1246 326h1V343h-1z" fill="#ef5350"/>
<path d="M1247 338h1V343h-1z" fill="#26a69a"/>
<path d="M1248 340h1V347h-1z" fill="#ef5350"/>
<path d="M1248 344h1V347h-1z" fill="#26a69a"/>
<path d="M1249 341h1V352h-1z" fill="#ef5350"/>
<path d="M1250 344h1V350h-1zM1251 344h1V348h-1zM1252 342h1V345h-1z" fill="#26a69a"/>
<path d="M1252 344h1V345h-1z" fill="#ef5350"/>
<path d="M1253 337h1V343h-1z" fill="#26a69a"/>
<path d="M1253 340h1V343h-1zM1254 339h1V349h-1zM1255 339h1V354h-1z" fill="#ef5350"/>
<path d="M1255 345h1V354h-1z" fill="#26a69a"/>
<path d="M1256 345h1V362h-1zM1257 354h1V365h-1z" fill="#ef5350"/>
<path d="M1258 347h1V363h-1zM1259 346h1V353h-1z" fill="#26a69a"/>
<path d="M1259 351h1V353h-1z" fill="#ef5350"/>
<path d="M1260 345h1V347h-1zM1261 342h1V346h-1zM1262 340h1V345h-1z" fill="#26a69a"/>
<path d="M1263 343h1V348h-1zM1264 344h1V350h-1z" fill="#ef5350"/>
<path d="M1264 344h1V348h-1zM1265 345h1V349h-1zM1266 338h1V347h-1z" fill="#26a69a"/>
<path d="M1266 338h1V342h-1z" fill="#ef5350"/>
<path d="M1267 340h1V345h-1z" fill="#26a69a"/>
<path d="M1268 340h1V351h-1z" fill="#ef5350"/>
<path d="M1268 345h1V351h-1z" fill="#26a69a"/>
<path d="M1269 345h1V359h-1zM1270 352h1V362h-1z" fill="#ef5350"/>
<path d="M1271 353h1V362h-1z" fill="#26a69a"/>
<path d="M1271 359h1V362h-1z" fill="#ef5350"/>
<path d="M1272 349h1V360h-1z" fill="#26a69a"/>
<path d="M1272 349h1V355h-1z" fill="#ef5350"/>
<path d="M1273 345h1V353h-1zM1274 343h1V349h-1z" fill="#26a69a"/>
<path d="M1274 343h1V346h-1zM1275 343h1V364h-1zM1276 347h1V369h-1z" fill="#ef5350"/>
<path d="M1276 362h1V369h-1zM1277 350h1V369h-1zM1278 331h1V361h-1zM1279 326h1V349h-1z" fill="#26a69a"/>
<path d="M1280 326h1V359h-1zM1281 343h1V368h-1zM1282 359h1V373h-1zM1283 369h1V378h-1zM1284 374h1V381h-1z" fill="#ef5350"/>
<path d="M1284 377h1V381h-1zM1285 368h1V381h-1zM1286 363h1V375h-1zM1287 358h1V367h-1zM1288 351h1V362h-1z" fill="#26a69a"/>
<path d="M1289 354h1V363h-1z" fill="#ef5350"/>
<path d="M1289 354h1V360h-1z" fill="#26a69a"/>
<path d="M1290 355h1V363h-1z" fill="#ef5350"/>
<path d="M1290 355h1V358h-1zM1291 356h1V364h-1z" fill="#26a69a"/>
<path d="M1291 359h1V364h-1zM1292 355h1V363h-1zM1293 356h1V368h-1z" fill="#ef5350"/>
<path d="M1294 345h1V368h-1z" fill="#26a69a"/>
<path d="M1295 345h1V358h-1z" fill="#ef5350"/>
<path d="M1295 353h1V358h-1z" fill="#26a69a"/>
<path d="M1296 348h1V354h-1z" fill="#ef5350"/>
<path d="M1296 351h1V354h-1z" fill="#26a69a"/>
<path d="M1297 353h1V362h-1zM1298 354h1V373h-1z" fill="#ef5350"/>
<path d="M1298 354h1V364h-1zM1299 342h1V373h-1zM1300 327h1V360h-1zM1301 322h1V341h-1zM1302 322h1V326h-1zM1303 322h1V330h-1z" fill="#26a69a"/>
<path d="M1304 322h1V328h-1z" fill="#ef5350"/>
<path d="M1304 322h1V324h-1zM1305 319h1V328h-1z" fill="#26a69a"/>
<path d="M1305 325h1V328h-1zM1306 319h1V339h-1z" fill="#ef5350"/>
<path d="M1306 331h1V339h-1zM1307 318h1V339h-1zM1308 314h1V332h-1z" fill="#26a69a"/>
<path d="M1308 314h1V321h-1zM1309 314h1V324h-1z" fill="#ef5350"/>
<path d="M1309 320h1V324h-1z" fill="#26a69a"/>
<path d="M1310 314h1V332h-1zM1311 326h1V337h-1zM1312 332h1V349h-1z" fill="#ef5350"/>
<path d="M1312 332h1V337h-1z" fill="#26a69a"/>
<path d="M1313 335h1V356h-1z" fill="#ef5350"/>
<path d="M1313 335h1V342h-1z" fill="#26a69a"/>
<path d="M1314 343h1V355h-1z" fill="#ef5350"/>
<path d="M1315 337h1V363h-1zM1316 335h1V374h-1z" fill="#26a69a"/>
<path d="M1317 339h1V356h-1z" fill="#ef5350"/>
<path d="M1317 339h1V348h-1zM1318 322h1V358h-1z" fill="#26a69a"/>
<path d="M1319 322h1V342h-1z" fill="#ef5350"/>
<path d="M1319 322h1V333h-1zM1320 307h1V336h-1zM1321 300h1V325h-1z" fill="#26a69a"/>
<path d="M1322 300h1V321h-1zM1323 303h1V322h-1zM1324 312h1V319h-1z" fill="#ef5350"/>
<path d="M1324 312h1V314h-1z" fill="#26a69a"/>
<path d="M1325 314h1V318h-1z" fill="#ef5350"/>
<path d="M1325 316h1V318h-1z" fill="#26a69a"/>
<path d="M1326 312h1V322h-1z" fill="#ef5350"/>
<path d="M1326 312h1V317h-1zM1327 302h1V320h-1z" fill="#26a69a"/>
<path d="M1327 302h1V311h-1zM1328 302h1V310h-1z" fill="#ef5350"/>
<path d="M1328 307h1V310h-1zM1329 298h1V310h-1zM1330 299h1V310h-1z" fill="#26a69a"/>
<path d="M1331 299h1V317h-1z" fill="#ef5350"/>
<path d="M1331 299h1V307h-1zM1332 308h1V319h-1z" fill="#26a69a"/>
<path d="M1333 309h1V329h-1z" fill="#ef5350"/>
<path d="M1333 319h1V329h-1zM1334 310h1V330h-1z" fill="#26a69a"/>
<path d="M1334 310h1V317h-1zM1335 310h1V318h-1z" fill="#ef5350"/>
<path d="M1335 310h1V313h-1z" fill="#26a69a"/>
<path d="M1336 312h1V328h-1z" fill="#ef5350"/>
<path d="M1336 312h1V317h-1zM1337 314h1V330h-1z" fill="#26a69a"/>
<path d="M1338 318h1V328h-1z" fill="#ef5350"/>
<path d="M1338 324h1V328h-1z" fill="#26a69a"/>
<path d="M1339 318h1V332h-1zM1340 324h1V336h-1z" fill="#ef5350"/>
<path d="M1341 328h1V338h-1z" fill="#26a69a"/>
<path d="M1342 332h1V357h-1z" fill="#ef5350"/>
<path d="M1343 339h1V356h-1z" fill="#26a69a"/>
<path d="M1343 339h1V349h-1zM1344 341h1V362h-1z" fill="#ef5350"/>
<path d="M1344 341h1V350h-1z" fill="#26a69a"/>
<path d="M1345 345h1V365h-1z" fill="#ef5350"/>
<path d="M1345 358h1V365h-1zM1346 354h1V365h-1z" fill="#26a69a"/>
<path d="M1346 361h1V365h-1z" fill="#ef5350"/>
<path d="M1347 350h1V356h-1z" fill="#26a69a"/>
<path d="M1347 353h1V356h-1zM1348 350h1V356h-1z" fill="#ef5350"/>
<path d="M1348 353h1V356h-1z" fill="#26a69a"/>
<path d="M1349 350h1V356h-1z" fill="#ef5350"/>
<path d="M1349 352h1V356h-1z" fill="#26a69a"/>
<path d="M1350 352h1V356h-1z" fill="#ef5350"/>
<path d="M1351 345h1V360h-1z" fill="#26a69a"/>
<path d="M1351 354h1V360h-1z" fill="#ef5350"/>
<path d="M1352 345h1V353h-1z" fill="#26a69a"/>
<path d="M1352 345h1V348h-1zM1353 345h1V352h-1z" fill="#ef5350"/>
<path d="M1353 348h1V352h-1zM1354 345h1V351h-1z" fill="#26a69a"/>
<path d="M1354 345h1V348h-1z" fill="#ef5350"/>
<path d="M1355 345h1V349h-1z" fill="#26a69a"/>
<path d="M1355 347h1V349h-1z" fill="#ef5350"/>
<path d="M1356 341h1V347h-1z" fill="#26a69a"/>
<path d="M1357 340h1V347h-1zM1358 337h1V348h-1z" fill="#ef5350"/>
<path d="M1358 337h1V344h-1z" fill="#26a69a"/>
<path d="M1359 347h1V353h-1z" fill="#ef5350"/>
<path d="M1359 347h1V350h-1zM1360 345h1V350h-1z" fill="#26a69a"/>
<path d="M1360 345h1V347h-1zM1361 345h1V350h-1z" fill="#ef5350"/>
<path d="M1361 345h1V347h-1z" fill="#26a69a"/>
<path d="M1362 345h1V353h-1zM1363 351h1V355h-1z" fill="#ef5350"/>
<path d="M1363 351h1V352h-1zM1364 351h1V356h-1z" fill="#26a69a"/>
<path d="M1364 354h1V356h-1zM1365 351h1V356h-1z" fill="#ef5350"/>
<path d="M1366 345h1V355h-1z" fill="#26a69a"/>
<path d="M1366 345h1V350h-1zM1367 347h1V361h-1zM1368 349h1V357h-1z" fill="#ef5350"/>
<path d="M1369 349h1V360h-1z" fill="#26a69a"/>
<path d="M1369 357h1V360h-1zM1370 348h1V353h-1z" fill="#ef5350"/>
<path d="M1370 351h1V353h-1z" fill="#26a69a"/>
<path d="M1371 349h1V354h-1z" fill="#ef5350"/>
<path d="M1371 352h1V354h-1z" fill="#26a69a"/>
<path d="M1372 351h1V361h-1z" fill="#ef5350"/>
<path d="M1373 352h1V361h-1z" fill="#26a69a"/>
<path d="M1373 358h1V361h-1zM1374 352h1V360h-1zM1375 355h1V359h-1z" fill="#ef5350"/>
<path d="M1376 353h1V366h-1z" fill="#26a69a"/>
<path d="M1377 355h1V385h-1z" fill="#ef5350"/>
<path d="M1378 368h1V385h-1z" fill="#26a69a"/>
<path d="M1378 368h1V374h-1zM1379 374h1V388h-1zM1380 374h1V423h-1zM1381 405h1V438h-1z" fill="#ef5350"/>
<path d="M1382 414h1V436h-1z" fill="#26a69a"/>
<path d="M1383 414h1V426h-1z" fill="#ef5350"/>
<path d="M1384 405h1V426h-1zM1385 398h1V419h-1z" fill="#26a69a"/>
<path d="M1386 402h1V429h-1zM1387 413h1V436h-1zM1388 425h1V438h-1z" fill="#ef5350"/>
<path d="M1388 425h1V431h-1zM1389 414h1V438h-1z" fill="#26a69a"/>
<path d="M1390 412h1V424h-1z" fill="#ef5350"/>
<path d="M1390 412h1V417h-1z" fill="#26a69a"/>
<path d="M1391 415h1V437h-1zM1392 422h1V447h-1z" fill="#ef5350"/>
<path d="M1393 422h1V447h-1zM1394 414h1V440h-1zM1395 408h1V419h-1z" fill="#26a69a"/>
<path d="M1395 408h1V414h-1z" fill="#ef5350"/>
<path d="M1396 409h1V417h-1zM1397 408h1V411h-1z" fill="#26a69a"/>
<path d="M1398 408h1V414h-1z" fill="#ef5350"/>
<path d="M1399 406h1V414h-1z" fill="#26a69a"/>
<path d="M1399 406h1V410h-1zM1400 406h1V420h-1zM1401 410h1V435h-1zM1402 417h1V448h-1zM1403 434h1V449h-1z" fill="#ef5350"/>
<path d="M1404 430h1V451h-1z" fill="#26a69a"/>
<path d="M1404 443h1V451h-1z" fill="#ef5350"/>
<path d="M1405 424h1V438h-1z" fill="#26a69a"/>
<path d="M1405 431h1V438h-1zM1406 424h1V440h-1zM1407 425h1V455h-1z" fill="#ef5350"/>
<path d="M1408 436h1V460h-1zM1409 422h1V457h-1zM1410 416h1V429h-1z" fill="#26a69a"/>
<path d="M1410 425h1V429h-1z" fill="#ef5350"/>
<path d="M1411 412h1V422h-1z" fill="#26a69a"/>
<path d="M1411 417h1V422h-1z" fill="#ef5350"/>
<path d="M1412 406h1V419h-1z" fill="#26a69a"/>
<path d="M1412 412h1V419h-1z" fill="#ef5350"/>
<path d="M1413 398h1V412h-1zM1414 394h1V409h-1z" fill="#26a69a"/>
<path d="M1414 401h1V409h-1z" fill="#ef5350"/>
<path d="M1415 389h1V399h-1z" fill="#26a69a"/>
<path d="M1415 394h1V399h-1zM1416 391h1V396h-1z" fill="#ef5350"/>
<path d="M1416 395h1V396h-1z" fill="#26a69a"/>
<path d="M1417 391h1V401h-1z" fill="#ef5350"/>
<path d="M1417 398h1V401h-1z" fill="#26a69a"/>
<path d="M1418 394h1V401h-1z" fill="#ef5350"/>
<path d="M1418 394h1V397h-1z" fill="#26a69a"/>
<path d="M1419 399h1V404h-1zM1420 396h1V410h-1z" fill="#ef5350"/>
<path d="M1420 405h1V410h-1z" fill="#26a69a"/>
<path d="M1421 404h1V422h-1zM1422 411h1V447h-1zM1423 430h1V450h-1z" fill="#ef5350"/>
<path d="M1423 430h1V437h-1zM1424 432h1V446h-1z" fill="#26a69a"/>
<path d="M1425 432h1V445h-1zM1426 435h1V452h-1z" fill="#ef5350"/>
<path d="M1426 445h1V452h-1z" fill="#26a69a"/>
<path d="M1427 443h1V467h-1zM1428 451h1V467h-1z" fill="#ef5350"/>
<path d="M1428 458h1V467h-1zM1429 443h1V466h-1z" fill="#26a69a"/>
<path d="M1430 441h1V514h-1z" fill="#ef5350"/>
<path d="M1431 488h1V517h-1zM1432 490h1V503h-1z" fill="#26a69a"/>
<path d="M1432 490h1V494h-1zM1433 490h1V502h-1z" fill="#ef5350"/>
<path d="M1433 490h1V496h-1z" fill="#26a69a"/>
<path d="M1434 492h1V510h-1z" fill="#ef5350"/>
<path d="M1435 487h1V508h-1z" fill="#26a69a"/>
<path d="M1435 499h1V508h-1z" fill="#ef5350"/>
<path d="M1436 487h1V499h-1z" fill="#26a69a"/>
<path d="M1437 486h1V503h-1z" fill="#ef5350"/>
<path d="M1438 490h1V504h-1z" fill="#26a69a"/>
<path d="M1439 490h1V505h-1z" fill="#ef5350"/>
<path d="M1439 498h1V505h-1z" fill="#26a69a"/>
<path d="M1440 491h1V514h-1z" fill="#ef5350"/>
<path d="M1441 493h1V513h-1z" fill="#26a69a"/>
<path d="M1441 493h1V500h-1zM1442 489h1V509h-1z" fill="#ef5350"/>
<path d="M1442 501h1V509h-1z" fill="#26a69a"/>
<path d="M1443 492h1V510h-1z" fill="#ef5350"/>
<path d="M1443 504h1V510h-1zM1444 477h1V510h-1z" fill="#26a69a"/>
<path d="M1445 472h1V498h-1zM1446 480h1V506h-1z" fill="#ef5350"/>
<path d="M1447 492h1V505h-1z" fill="#26a69a"/>
<path d="M1447 500h1V505h-1zM1448 492h1V497h-1z" fill="#ef5350"/>
<path d="M1449 493h1V497h-1zM1450 490h1V497h-1z" fill="#26a69a"/>
<path d="M1450 494h1V497h-1zM1451 490h1V494h-1z" fill="#ef5350"/>
<path d="M1451 493h1V494h-1z" fill="#26a69a"/>
<path d="M1452 488h1V500h-1z" fill="#ef5350"/>
<path d="M1452 488h1V492h-1z" fill="#26a69a"/>
<path d="M1453 495h1V504h-1z" fill="#ef5350"/>
<path d="M1454 494h1V504h-1z" fill="#26a69a"/>
<path d="M1454 500h1V504h-1z" fill="#ef5350"/>
<path d="M1455 496h1V503h-1z" fill="#26a69a"/>
<path d="M1455 499h1V503h-1zM1456 496h1V500h-1z" fill="#ef5350"/>
<path d="M1456 498h1V500h-1z" fill="#26a69a"/>
<path d="M1457 498h1V500h-1z" fill="#ef5350"/>
<path d="M1458 497h1V504h-1zM1459 495h1V501h-1z" fill="#26a69a"/>
<path d="M1459 495h1V497h-1z" fill="#ef5350"/>
<path d="M1460 491h1V497h-1zM1461 490h1V498h-1zM1462 488h1V493h-1z" fill="#26a69a"/>
<path d="M1462 490h1V493h-1zM1463 488h1V493h-1zM1464 489h1V495h-1z" fill="#ef5350"/>
<path d="M1465 492h1V498h-1z" fill="#26a69a"/>
<path d="M1465 492h1V495h-1zM1466 492h1V497h-1z" fill="#ef5350"/>
<path d="M1466 492h1V495h-1z" fill="#26a69a"/>
<path d="M1467 493h1V499h-1z" fill="#ef5350"/>
<path d="M1468 492h1V499h-1z" fill="#26a69a"/>
<path d="M1468 495h1V499h-1zM1469 492h1V498h-1zM1470 490h1V501h-1z" fill="#ef5350"/>
<path d="M1471 485h1V501h-1z" fill="#26a69a"/>
<path d="M1471 492h1V501h-1z" fill="#ef5350"/>
<path d="M1472 478h1V493h-1z" fill="#26a69a"/>
<path d="M1472 478h1V484h-1z" fill="#ef5350"/>
<path d="M1473 473h1V485h-1z" fill="#26a69a"/>
<path d="M1473 473h1V479h-1zM1474 468h1V479h-1z" fill="#ef5350"/>
<path d="M1475 448h1V479h-1zM1476 433h1V468h-1zM1477 429h1V448h-1z" fill="#26a69a"/>
<path d="M1478 429h1V439h-1zM1479 433h1V441h-1z" fill="#ef5350"/>
<path d="M1479 437h1V441h-1z" fill="#26a69a"/>
<path d="M1480 437h1V444h-1zM1481 441h1V447h-1z" fill="#ef5350"/>
<path d="M1482 428h1V451h-1z" fill="#26a69a"/>
<path d="M1483 426h1V439h-1z" fill="#ef5350"/>
<path d="M1483 431h1V439h-1zM1484 411h1V437h-1zM1485 402h1V432h-1zM1486 385h1V409h-1z" fill="#26a69a"/>
<path d="M1487 382h1V401h-1zM1488 388h1V399h-1z" fill="#ef5350"/>
<path d="M1488 395h1V399h-1zM1489 381h1V399h-1z" fill="#26a69a"/>
<path d="M1489 389h1V399h-1zM1490 381h1V389h-1z" fill="#ef5350"/>
<path d="M1491 378h1V387h-1z" fill="#26a69a"/>
<path d="M1491 378h1V382h-1z" fill="#ef5350"/>
<path d="M1492 371h1V387h-1z" fill="#26a69a"/>
<path d="M1492 380h1V387h-1zM1493 371h1V384h-1z" fill="#ef5350"/>
<path d="M1493 376h1V384h-1z" fill="#26a69a"/>
<path d="M1494 375h1V389h-1zM1495 382h1V393h-1zM1496 389h1V405h-1zM1497 394h1V424h-1z" fill="#ef5350"/>
<path d="M1498 403h1V420h-1zM1499 398h1V416h-1z" fill="#26a69a"/>
<path d="M1500 398h1V415h-1zM1501 402h1V419h-1z" fill="#ef5350"/>
<path d="M1501 411h1V419h-1zM1502 391h1V422h-1zM1503 374h1V411h-1z" fill="#26a69a"/>
<path d="M1504 374h1V393h-1z" fill="#ef5350"/>
<path d="M1504 374h1V379h-1z" fill="#26a69a"/>
<path d="M1505 387h1V396h-1z" fill="#ef5350"/>
<path d="M1506 383h1V398h-1zM1507 376h1V393h-1z" fill="#26a69a"/>
<path d="M1508 376h1V386h-1z" fill="#ef5350"/>
<path d="M1509 375h1V386h-1zM1510 369h1V383h-1z" fill="#26a69a"/>
<path d="M1510 376h1V383h-1z" fill="#ef5350"/>
<path d="M1511 331h1V377h-1zM1512 329h1V348h-1z" fill="#26a69a"/>
<path d="M1513 329h1V337h-1z" fill="#ef5350"/>
<path d="M1513 333h1V337h-1zM1514 313h1V337h-1zM1515 292h1V327h-1z" fill="#26a69a"/>
<path d="M1516 291h1V313h-1z" fill="#ef5350"/>
<path d="M1516 291h1V301h-1zM1517 298h1V313h-1z" fill="#26a69a"/>
<path d="M1517 298h1V303h-1z" fill="#ef5350"/>
<path d="M1518 295h1V310h-1z" fill="#26a69a"/>
<path d="M1518 295h1V302h-1z" fill="#ef5350"/>
<path d="M1519 285h1V302h-1zM1520 264h1V294h-1zM1521 261h1V282h-1z" fill="#26a69a"/>
<path d="M1521 261h1V268h-1zM1522 266h1V282h-1zM1523 275h1V291h-1z" fill="#ef5350"/>
<path d="M1523 284h1V291h-1zM1524 283h1V290h-1zM1525 280h1V288h-1z" fill="#26a69a"/>
<path d="M1525 283h1V288h-1z" fill="#ef5350"/>
<path d="M1526 273h1V286h-1zM1527 254h1V282h-1z" fill="#26a69a"/>
<path d="M1528 254h1V282h-1z" fill="#ef5350"/>
<path d="M1529 249h1V282h-1zM1530 232h1V267h-1zM1531 227h1V242h-1z" fill="#26a69a"/>
<path d="M1532 227h1V235h-1z" fill="#ef5350"/>
<path d="M1532 230h1V235h-1z" fill="#26a69a"/>
<path d="M1533 228h1V241h-1z" fill="#ef5350"/>
<path d="M1533 234h1V241h-1zM1534 234h1V239h-1z" fill="#26a69a"/>
<path d="M1535 237h1V245h-1z" fill="#ef5350"/>
<path d="M1535 237h1V242h-1z" fill="#26a69a"/>
<path d="M1536 238h1V249h-1z" fill="#ef5350"/>
<path d="M1537 239h1V249h-1z" fill="#26a69a"/>
<path d="M1538 239h1V256h-1zM1539 245h1V266h-1z" fill="#ef5350"/>
<path d="M1539 245h1V254h-1zM1540 245h1V270h-1zM1541 239h1V265h-1z" fill="#26a69a"/>
<path d="M1542 236h1V251h-1z" fill="#ef5350"/>
<path d="M1542 236h1V242h-1zM1543 226h1V252h-1zM1544 182h1V245h-1z" fill="#26a69a"/>
<path d="M1545 160h1V216h-1z" fill="#ef5350"/>
<path d="M1546 179h1V214h-1z" fill="#26a69a"/>
<path d="M1547 186h1V200h-1zM1548 186h1V196h-1z" fill="#ef5350"/>
<path d="M1548 192h1V196h-1zM1549 191h1V197h-1z" fill="#26a69a"/>
<path d="M1549 195h1V197h-1zM1550 191h1V209h-1z" fill="#ef5350"/>
<path d="M1551 186h1V209h-1z" fill="#26a69a"/>
<path d="M1552 185h1V199h-1z" fill="#ef5350"/>
<path d="M1552 192h1V199h-1z" fill="#26a69a"/>
<path d="M1553 187h1V194h-1z" fill="#ef5350"/>
<path d="M1553 190h1V194h-1zM1554 191h1V194h-1z" fill="#26a69a"/>
<path d="M1555 191h1V200h-1z" fill="#ef5350"/>
<path d="M1555 191h1V195h-1z" fill="#26a69a"/>
<path d="M1556 194h1V205h-1z" fill="#ef5350"/>
<path d="M1557 192h1V201h-1z" fill="#26a69a"/>
<path d="M1557 192h1V196h-1zM1558 192h1V213h-1z" fill="#ef5350"/>
<path d="M1558 204h1V213h-1z" fill="#26a69a"/>
<path d="M1559 199h1V213h-1z" fill="#ef5350"/>
<path d="M1560 207h1V214h-1zM1561 198h1V214h-1zM1562 197h1V208h-1zM1563 195h1V198h-1zM1564 185h1V197h-1z" fill="#26a69a"/>
<path d="M1564 185h1V189h-1z" fill="#ef5350"/>
<path d="M1565 133h1V195h-1zM1566 119h1V151h-1z" fill="#26a69a"/>
<path d="M1567 119h1V137h-1z" fill="#ef5350"/>
<path d="M1567 119h1V129h-1z" fill="#26a69a"/>
<path d="M1568 128h1V158h-1zM1569 140h1V191h-1z" fill="#ef5350"/>
<path d="M1570 171h1V191h-1z" fill="#26a69a"/>
<path d="M1571 171h1V178h-1zM1572 173h1V198h-1z" fill="#ef5350"/>
<path d="M1573 180h1V196h-1zM1574 174h1V194h-1z" fill="#26a69a"/>
<path d="M1575 174h1V191h-1z" fill="#ef5350"/>
<path d="M1576 176h1V194h-1z" fill="#26a69a"/>
<path d="M1576 176h1V185h-1z" fill="#ef5350"/>
<path d="M1577 153h1V189h-1zM1578 151h1V175h-1z" fill="#26a69a"/>
<path d="M1579 152h1V163h-1z" fill="#ef5350"/>
<path d="M1580 153h1V163h-1z" fill="#26a69a"/>
<path d="M1581 156h1V167h-1zM1582 157h1V177h-1z" fill="#ef5350"/>
<path d="M1582 157h1V168h-1zM1583 156h1V175h-1z" fill="#26a69a"/>
<path d="M1584 156h1V164h-1z" fill="#ef5350"/>
<path d="M1585 142h1V164h-1zM1586 127h1V160h-1zM1587 120h1V140h-1z" fill="#26a69a"/>
<path d="M1587 132h1V140h-1z" fill="#ef5350"/>
<path d="M1588 108h1V128h-1zM1589 106h1V126h-1z" fill="#26a69a"/>
<path d="M1590 106h1V126h-1zM1591 108h1V132h-1zM1592 129h1V136h-1zM1593 129h1V143h-1z" fill="#ef5350"/>
<path d="M1593 129h1V136h-1z" fill="#26a69a"/>
<path d="M1594 136h1V144h-1z" fill="#ef5350"/>
<path d="M1595 143h1V149h-1z" fill="#26a69a"/>
<path d="M1595 143h1V146h-1zM1596 143h1V171h-1zM1597 151h1V172h-1z" fill="#ef5350"/>
<path d="M1597 160h1V172h-1zM1598 145h1V172h-1zM1599 134h1V156h-1zM1600 130h1V154h-1z" fill="#26a69a"/>
<path d="M1601 127h1V186h-1zM1602 166h1V234h-1z" fill="#ef5350"/>
<path d="M1603 205h1V237h-1zM1604 198h1V227h-1zM1605 198h1V207h-1z" fill="#26a69a"/>
<path d="M1605 202h1V207h-1zM1606 198h1V215h-1zM1607 201h1V222h-1z" fill="#ef5350"/>
<path d="M1608 201h1V222h-1z" fill="#26a69a"/>
<path d="M1608 215h1V222h-1zM1609 201h1V225h-1z" fill="#ef5350"/>
<path d="M1610 206h1V225h-1z" fill="#26a69a"/>
<path d="M1610 217h1V225h-1z" fill="#ef5350"/>
<path d="M1611 185h1V222h-1zM1612 174h1V203h-1z" fill="#26a69a"/>
<path d="M1613 177h1V194h-1z" fill="#ef5350"/>
<path d="M1613 177h1V185h-1z" fill="#26a69a"/>
<path d="M1614 180h1V214h-1z" fill="#ef5350"/>
<path d="M1615 181h1V211h-1zM1616 151h1V199h-1zM1617 154h1V172h-1z" fill="#26a69a"/>
<path d="M1618 151h1V164h-1zM1619 154h1V179h-1z" fill="#ef5350"/>
<path d="M1620 166h1V176h-1z" fill="#26a69a"/>
<path d="M1620 172h1V176h-1zM1621 171h1V204h-1zM1622 186h1V217h-1z" fill="#ef5350"/>
<path d="M1623 201h1V215h-1zM1624 200h1V207h-1z" fill="#26a69a"/>
<path d="M1625 200h1V223h-1z" fill="#ef5350"/>
<path d="M1626 203h1V224h-1z" fill="#26a69a"/>
<path d="M1626 203h1V215h-1z" fill="#ef5350"/>
<path d="M1627 173h1V221h-1zM1628 161h1V191h-1z" fill="#26a69a"/>
<path d="M1629 163h1V186h-1zM1630 168h1V237h-1zM1631 219h1V258h-1z" fill="#ef5350"/>
<path d="M1632 221h1V254h-1zM1633 215h1V228h-1z" fill="#26a69a"/>
<path d="M1633 215h1V219h-1z" fill="#ef5350"/>
<path d="M1634 209h1V220h-1z" fill="#26a69a"/>
<path d="M1634 209h1V214h-1z" fill="#ef5350"/>
<path d="M1635 208h1V218h-1z" fill="#26a69a"/>
<path d="M1636 208h1V225h-1z" fill="#ef5350"/>
<path d="M1636 208h1V214h-1z" fill="#26a69a"/>
<path d="M1637 209h1V229h-1z" fill="#ef5350"/>
<path d="M1637 209h1V221h-1zM1638 214h1V229h-1z" fill="#26a69a"/>
<path d="M1639 214h1V234h-1z" fill="#ef5350"/>
<path d="M1639 214h1V224h-1zM1640 211h1V230h-1z" fill="#26a69a"/>
<path d="M1641 208h1V223h-1z" fill="#ef5350"/>
<path d="M1641 208h1V213h-1zM1642 192h1V222h-1z" fill="#26a69a"/>
<path d="M1643 192h1V210h-1zM1644 196h1V247h-1zM1645 229h1V279h-1zM1646 261h1V313h-1zM1647 293h1V345h-1zM1648 327h1V491h-1z" fill="#ef5350"/>
<path d="M1649 400h1V467h-1z" fill="#26a69a"/>
<path d="M1650 415h1V453h-1z" fill="#ef5350"/>
<path d="M1651 408h1V456h-1zM1652 402h1V426h-1z" fill="#26a69a"/>
<path d="M1653 407h1V438h-1zM1654 420h1V479h-1z" fill="#ef5350"/>
<path d="M1655 437h1V475h-1zM1656 433h1V449h-1z" fill="#26a69a"/>
<path d="M1656 441h1V449h-1z" fill="#ef5350"/>
<path d="M1657 423h1V439h-1z" fill="#26a69a"/>
<path d="M1658 423h1V432h-1zM1659 424h1V435h-1z" fill="#ef5350"/>
<path d="M1659 424h1V428h-1z" fill="#26a69a"/>
<path d="M1660 431h1V448h-1z" fill="#ef5350"/>
<path d="M1660 441h1V448h-1z" fill="#26a69a"/>
<path d="M1661 436h1V463h-1zM1662 447h1V481h-1zM1663 464h1V489h-1zM1664 484h1V491h-1z" fill="#ef5350"/>
<path d="M1664 489h1V491h-1zM1665 456h1V490h-1zM1666 436h1V474h-1zM1667 432h1V450h-1z" fill="#26a69a"/>
<path d="M1667 444h1V450h-1zM1668 432h1V452h-1z" fill="#ef5350"/>
<path d="M1669 432h1V452h-1z" fill="#26a69a"/>
<path d="M1669 432h1V442h-1zM1670 435h1V453h-1z" fill="#ef5350"/>
<path d="M1670 435h1V442h-1zM1671 430h1V453h-1z" fill="#26a69a"/>
<path d="M1672 431h1V455h-1z" fill="#ef5350"/>
<path d="M1673 385h1V458h-1zM1674 374h1V406h-1z" fill="#26a69a"/>
<path d="M1675 371h1V391h-1z" fill="#ef5350"/>
<path d="M1676 356h1V391h-1z" fill="#26a69a"/>
<path d="M1677 353h1V369h-1z" fill="#ef5350"/>
<path d="M1678 344h1V366h-1zM1679 344h1V355h-1z" fill="#26a69a"/>
<path d="M1679 349h1V355h-1zM1680 344h1V371h-1zM1681 353h1V379h-1z" fill="#ef5350"/>
<path d="M1682 353h1V375h-1z" fill="#26a69a"/>
<path d="M1683 354h1V366h-1z" fill="#ef5350"/>
<path d="M1684 352h1V375h-1z" fill="#26a69a"/>
<path d="M1685 353h1V397h-1z" fill="#ef5350"/>
<path d="M1686 355h1V391h-1z" fill="#26a69a"/>
<path d="M1687 353h1V382h-1zM1688 361h1V390h-1z" fill="#ef5350"/>
<path d="M1689 353h1V390h-1zM1690 345h1V371h-1zM1691 346h1V349h-1z" fill="#26a69a"/>
<path d="M1692 342h1V360h-1zM1693 348h1V375h-1zM1694 360h1V398h-1zM1695 391h1V413h-1zM1696 399h1V440h-1zM1697 419h1V449h-1zM1698 433h1V456h-1zM1699 438h1V479h-1z" fill="#ef5350"/>
<path d="M1700 449h1V480h-1zM1701 442h1V486h-1zM1702 410h1V460h-1zM1703 404h1V424h-1z" fill="#26a69a"/>
<path d="M1704 401h1V421h-1z" fill="#ef5350"/>
<path d="M1704 401h1V410h-1z" fill="#26a69a"/>
<path d="M1705 401h1V434h-1z" fill="#ef5350"/>
<path d="M1706 400h1V434h-1z" fill="#26a69a"/>
<path d="M1707 400h1V425h-1zM1708 406h1V429h-1zM1709 399h1V436h-1zM1710 418h1V441h-1z" fill="#ef5350"/>
<path d="M1711 401h1V436h-1z" fill="#26a69a"/>
<path d="M1712 401h1V423h-1zM1713 403h1V431h-1zM1714 423h1V463h-1z" fill="#ef5350"/>
<path d="M1715 435h1V465h-1z" fill="#26a69a"/>
<path d="M1716 430h1V464h-1zM1717 444h1V479h-1z" fill="#ef5350"/>
<path d="M1718 451h1V479h-1zM1719 447h1V469h-1z" fill="#26a69a"/>
<path d="M1720 447h1V472h-1zM1721 454h1V474h-1zM1722 457h1V473h-1z" fill="#ef5350"/>
<path d="M1723 448h1V475h-1zM1724 441h1V466h-1z" fill="#26a69a"/>
<path d="M1725 445h1V467h-1zM1726 444h1V485h-1z" fill="#ef5350"/>
<path d="M1727 460h1V491h-1zM1728 437h1V478h-1zM1729 437h1V452h-1z" fill="#26a69a"/>
<path d="M1729 444h1V452h-1zM1730 437h1V494h-1zM1731 475h1V540h-1zM1732 500h1V536h-1zM1733 511h1V536h-1zM1734 517h1V544h-1z" fill="#ef5350"/>
<path d="M1735 520h1V543h-1zM1736 505h1V534h-1zM1737 500h1V511h-1zM1738 501h1V504h-1z" fill="#26a69a"/>
<path d="M1738 503h1V504h-1zM1739 501h1V521h-1z" fill="#ef5350"/>
<path d="M1739 511h1V521h-1z" fill="#26a69a"/>
<path d="M1740 510h1V587h-1zM1741 585h1V595h-1z" fill="#ef5350"/>
</svg>
<div class="abs lg" style="left:17.6px;top:35.1px;letter-spacing:0.19px">Bitcoin / U.S. Dollar · 1h · Bitstamp</div>
<div class="abs lg" style="left:217.2px;top:35.1px;">O</div>
<div class="abs lv" style="left:226.0px;top:35.1px;">105,615</div>
<div class="abs lg" style="left:274.6px;top:35.1px;">H</div>
<div class="abs lv" style="left:282.8px;top:35.1px;">105,654</div>
<div class="abs lg" style="left:332.0px;top:35.1px;">L</div>
<div class="abs lv" style="left:337.9px;top:35.1px;">105,188</div>
<div class="abs lg" style="left:387.8px;top:35.1px;">C</div>
<div class="abs lv" style="left:395.0px;top:35.1px;">105,191</div>
<div class="abs lv" style="left:444.8px;top:35.1px;letter-spacing:-0.4px">−424 (−0.40%)</div>
<div class="abs pl" style="left:1772.2px;top:59.3px;">128,000</div>
<div class="abs pl" style="left:1772.2px;top:105.9px;">126,000</div>
<div class="abs pl" style="left:1772.2px;top:151.9px;">124,000</div>
<div class="abs pl" style="left:1772.2px;top:197.9px;">122,000</div>
<div class="abs pl" style="left:1772.2px;top:244.9px;">120,000</div>
<div class="abs pl" style="left:1772.2px;top:290.9px;">118,000</div>
<div class="abs pl" style="left:1772.2px;top:337.9px;">116,000</div>
<div class="abs pl" style="left:1772.2px;top:383.9px;">114,000</div>
<div class="abs pl" style="left:1772.2px;top:429.9px;">112,000</div>
<div class="abs pl" style="left:1772.2px;top:476.9px;">110,000</div>
<div class="abs pl" style="left:1772.2px;top:522.9px;">108,000</div>
<div class="abs pl" style="left:1772.2px;top:569.9px;">106,000</div>
<div class="abs pl" style="left:1772.2px;top:615.9px;">104,000</div>
<div class="abs pl" style="left:1772.2px;top:661.9px;">102,000</div>
<div class="abs pl" style="left:1772.2px;top:708.9px;">100,000</div>
<div class="abs pl" style="left:1771.8px;top:754.9px;">98,000</div>
<div class="abs pl" style="left:1771.8px;top:800.9px;">96,000</div>
<div class="abs tl" style="left:8.3px;top:828.1px;letter-spacing:-0.9px">21</div>
<div class="abs tl" style="left:66.3px;top:828.1px;letter-spacing:-0.9px">25</div>
<div class="abs tl" style="left:152.3px;top:828.1px;letter-spacing:0.5px">Jul</div>
<div class="abs tl" style="left:210.3px;top:828.1px;letter-spacing:-0.9px">5</div>
<div class="abs tl" style="left:267.3px;top:828.1px;letter-spacing:-0.9px">9</div>
<div class="abs tl" style="left:324.3px;top:828.1px;letter-spacing:-0.9px">13</div>
<div class="abs tl" style="left:382.3px;top:828.1px;letter-spacing:-0.9px">17</div>
<div class="abs tl" style="left:439.3px;top:828.1px;letter-spacing:-0.9px">21</div>
<div class="abs tl" style="left:497.3px;top:828.1px;letter-spacing:-0.9px">25</div>
<div class="abs tl" style="left:598.3px;top:828.1px;letter-spacing:0.5px">Aug</div>
<div class="abs tl" style="left:655.3px;top:828.1px;letter-spacing:-0.9px">5</div>
<div class="abs tl" style="left:713.3px;top:828.1px;letter-spacing:-0.9px">9</div>
<div class="abs tl" style="left:770.3px;top:828.1px;letter-spacing:-0.9px">13</div>
<div class="abs tl" style="left:828.3px;top:828.1px;letter-spacing:-0.9px">17</div>
<div class="abs tl" style="left:885.3px;top:828.1px;letter-spacing:-0.9px">21</div>
<div class="abs tl" style="left:943.3px;top:828.1px;letter-spacing:-0.9px">25</div>
<div class="abs tl" style="left:1043.3px;top:828.1px;letter-spacing:0.5px">Sep</div>
<div class="abs tl" style="left:1101.3px;top:828.1px;letter-spacing:-0.9px">5</div>
<div class="abs tl" style="left:1158.3px;top:828.1px;letter-spacing:-0.9px">9</div>
<div class="abs tl" style="left:1216.3px;top:828.1px;letter-spacing:-0.9px">13</div>
<div class="abs tl" style="left:1273.3px;top:828.1px;letter-spacing:-0.9px">17</div>
<div class="abs tl" style="left:1331.3px;top:828.1px;letter-spacing:-0.9px">21</div>
<div class="abs tl" style="left:1388.3px;top:828.1px;letter-spacing:-0.9px">25</div>
<div class="abs tl" style="left:1474.3px;top:828.1px;letter-spacing:0.5px">Oct</div>
<div class="abs tl" style="left:1532.3px;top:828.1px;letter-spacing:-0.9px">5</div>
<div class="abs tl" style="left:1589.3px;top:828.1px;letter-spacing:-0.9px">9</div>
<div class="abs tl" style="left:1647.3px;top:828.1px;letter-spacing:-0.9px">13</div>
<div class="abs tl" style="left:1704.3px;top:828.1px;letter-spacing:-0.9px">17</div>
<div id="usd" class="abs"></div>
<div id="usdt" class="abs" style="left:1775.2px;top:38.1px;">USD</div>
<div id="last" class="abs"></div>
<div class="abs " style="left:1771.4px;top:587.8px;color:#fff;letter-spacing:-0.3px;-webkit-text-stroke:0.3px #fff">105,191</div>
<div class="abs " style="left:1771.8px;top:601.9px;color:rgba(255,255,255,.82);letter-spacing:-0.05px">56:05</div>
<svg class="abs" style="left:1722px;top:792px" width="40" height="32" viewBox="1722 792 40 32">
<defs><linearGradient id="rg" x1="0" y1="1" x2="1" y2="0"><stop offset="0" stop-color="#a23fe6"/><stop offset="0.22" stop-color="#b83cc0"/><stop offset="0.42" stop-color="#e8334a"/><stop offset="1" stop-color="#e8334a"/></linearGradient>
<clipPath id="fc"><circle cx="1743.3" cy="808" r="8.25"/></clipPath>
<linearGradient id="rb" x1="0" y1="0" x2="0" y2="1"><stop offset="0" stop-color="#f26d65"/><stop offset="1" stop-color="#ef5350"/></linearGradient></defs>
<circle cx="1743.1" cy="808" r="11.6" fill="#131722"/>
<path d="M1730.8 807.2Q1732 811 1735.6 812.2Q1732 813.4 1730.8 817.2Q1729.6 813.4 1726 812.2Q1729.6 811 1730.8 807.2Z" fill="#7c4dff" stroke="#131722" stroke-width="1.6" paint-order="stroke"/>
<circle cx="1743.1" cy="808" r="10.1" fill="#10131c" stroke="url(#rg)" stroke-width="1.9"/>
<g clip-path="url(#fc)">
<rect x="1734" y="799" width="19" height="18" fill="#fff"/>
<rect x="1745" y="799.6" width="9" height="4" fill="#f1655e"/>
<rect x="1745" y="806.1" width="9" height="3.7" fill="#ef5350"/>
<rect x="1734" y="812.6" width="19" height="5" fill="url(#rb)"/>
<rect x="1734" y="799" width="11.2" height="10.8" fill="#2186e5"/>
<g fill="#d7e9ff"><rect x="1737.2" y="801.6" width="1.8" height="1"/><rect x="1739.8" y="801.6" width="1.8" height="1"/><rect x="1742.4" y="801.6" width="1.8" height="1"/>
<rect x="1736.6" y="804.2" width="1.8" height="1"/><rect x="1739.4" y="804.2" width="1.8" height="1"/><rect x="1742.2" y="804.2" width="1.8" height="1"/>
<rect x="1736.6" y="806.8" width="1.8" height="1"/><rect x="1739.4" y="806.8" width="1.8" height="1"/><rect x="1742.2" y="806.8" width="1.8" height="1"/></g>
</g></svg>
<svg class="abs" style="left:0;top:860px" width="60" height="40" viewBox="0 860 60 40"><path d="M11.9 871.3H23.6V886H17.95V876.9H11.9z M33.5 871.3H41.8L36.2 886H29z" fill="#131722"/><circle cx="29" cy="874.1" r="2.85" fill="#131722"/></svg>
<div class="abs " style="left:49.0px;top:867.4px;font-size:20px;font-weight:bold;line-height:24px;color:#131722;letter-spacing:0.3px">TradingView</div>
</body></html>
